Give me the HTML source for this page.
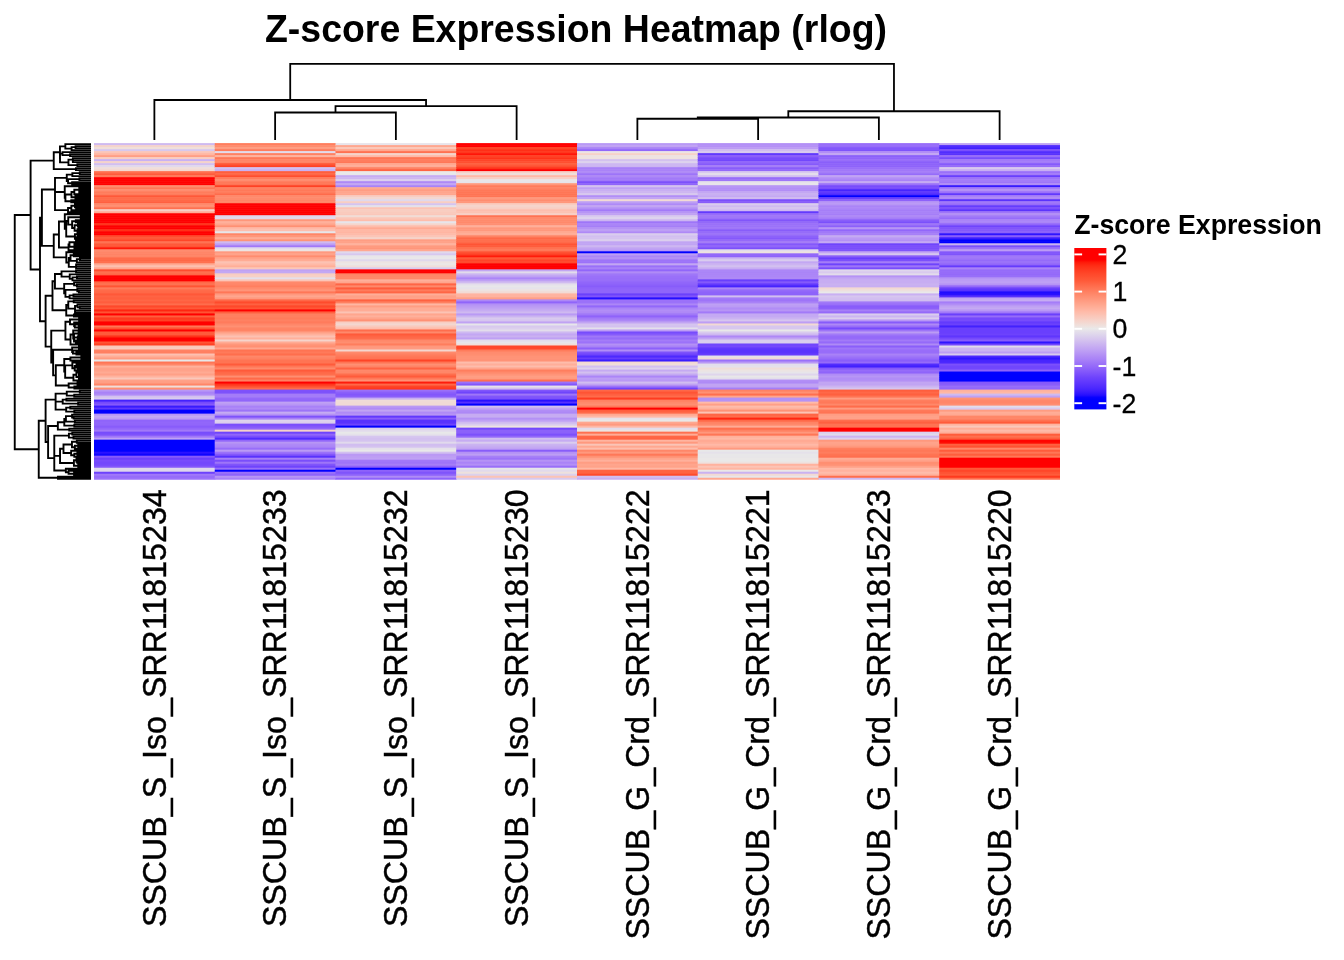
<!DOCTYPE html>
<html><head><meta charset="utf-8"><title>Z-score Expression Heatmap (rlog)</title>
<style>
html,body{margin:0;padding:0;background:#fff;}
svg{display:block;will-change:transform;}
</style></head>
<body>
<svg width="1344" height="960" viewBox="0 0 1344 960">
<rect width="1344" height="960" fill="#fff"/>
<text transform="translate(265.0,42) scale(1,1.02)" font-family="Liberation Sans, Arial, sans-serif" font-weight="bold" font-size="37.45">Z-score Expression Heatmap (rlog)</text>
<path d="M275.12 140.00V112.50H395.88V140.00M335.50 112.50V106.20H516.62V140.00M154.38 140.00V100.00H426.06V106.20M637.38 140.00V118.75H758.12V140.00M697.75 118.75V117.50H878.88V140.00M788.31 117.50V111.25H999.62V140.00M290.22 100.00V63.90H893.97V111.25" fill="none" stroke="#000" stroke-width="1.8"/>
<g shape-rendering="auto">
<rect x="94.00" y="143.10" width="121.35" height="2.60" fill="#cfbaf0"/>
<rect x="94.00" y="145.10" width="121.35" height="2.60" fill="#f5d4cb"/>
<rect x="94.00" y="147.11" width="121.35" height="2.60" fill="#efdfdb"/>
<rect x="94.00" y="149.11" width="121.35" height="2.60" fill="#d7c8ee"/>
<rect x="94.00" y="151.12" width="121.35" height="2.60" fill="#fbc5b7"/>
<rect x="94.00" y="153.12" width="121.35" height="2.60" fill="#ffb7a4"/>
<rect x="94.00" y="155.12" width="121.35" height="2.60" fill="#ff9e85"/>
<rect x="94.00" y="157.13" width="121.35" height="2.60" fill="#f8cec3"/>
<rect x="94.00" y="159.13" width="121.35" height="2.60" fill="#c9b0f2"/>
<rect x="94.00" y="161.13" width="121.35" height="2.60" fill="#f5d3ca"/>
<rect x="94.00" y="163.14" width="121.35" height="2.60" fill="#d2bef0"/>
<rect x="94.00" y="165.14" width="121.35" height="2.60" fill="#e1d9ec"/>
<rect x="94.00" y="167.15" width="121.35" height="2.60" fill="#f0deda"/>
<rect x="94.00" y="169.15" width="121.35" height="2.60" fill="#f3d8d1"/>
<rect x="94.00" y="171.15" width="121.35" height="2.60" fill="#ff6f4e"/>
<rect x="94.00" y="173.16" width="121.35" height="2.60" fill="#ff5b3b"/>
<rect x="94.00" y="175.16" width="121.35" height="2.60" fill="#ff7a5a"/>
<rect x="94.00" y="177.17" width="121.35" height="2.60" fill="#ff0000"/>
<rect x="94.00" y="179.17" width="121.35" height="2.60" fill="#ff0000"/>
<rect x="94.00" y="181.17" width="121.35" height="2.60" fill="#ff0000"/>
<rect x="94.00" y="183.18" width="121.35" height="2.60" fill="#ff0000"/>
<rect x="94.00" y="185.18" width="121.35" height="2.60" fill="#ff8b6d"/>
<rect x="94.00" y="187.19" width="121.35" height="2.60" fill="#ff7656"/>
<rect x="94.00" y="189.19" width="121.35" height="2.60" fill="#ff8d70"/>
<rect x="94.00" y="191.19" width="121.35" height="2.60" fill="#ff7c5c"/>
<rect x="94.00" y="193.20" width="121.35" height="2.60" fill="#ff7b5b"/>
<rect x="94.00" y="195.20" width="121.35" height="2.60" fill="#ff5838"/>
<rect x="94.00" y="197.20" width="121.35" height="2.60" fill="#ff6b4a"/>
<rect x="94.00" y="199.21" width="121.35" height="2.60" fill="#ff6847"/>
<rect x="94.00" y="201.21" width="121.35" height="2.60" fill="#ff6040"/>
<rect x="94.00" y="203.22" width="121.35" height="2.60" fill="#ff896b"/>
<rect x="94.00" y="205.22" width="121.35" height="2.60" fill="#ff8d6f"/>
<rect x="94.00" y="207.22" width="121.35" height="2.60" fill="#ff7050"/>
<rect x="94.00" y="209.23" width="121.35" height="2.60" fill="#f6d1c8"/>
<rect x="94.00" y="211.23" width="121.35" height="2.60" fill="#ffac96"/>
<rect x="94.00" y="213.24" width="121.35" height="2.60" fill="#ff0000"/>
<rect x="94.00" y="215.24" width="121.35" height="2.60" fill="#ff0000"/>
<rect x="94.00" y="217.24" width="121.35" height="2.60" fill="#ff0000"/>
<rect x="94.00" y="219.25" width="121.35" height="2.60" fill="#ff0000"/>
<rect x="94.00" y="221.25" width="121.35" height="2.60" fill="#ff0000"/>
<rect x="94.00" y="223.25" width="121.35" height="2.60" fill="#ff361c"/>
<rect x="94.00" y="225.26" width="121.35" height="2.60" fill="#ff0000"/>
<rect x="94.00" y="227.26" width="121.35" height="2.60" fill="#ff0000"/>
<rect x="94.00" y="229.27" width="121.35" height="2.60" fill="#ff3118"/>
<rect x="94.00" y="231.27" width="121.35" height="2.60" fill="#ff0201"/>
<rect x="94.00" y="233.27" width="121.35" height="2.60" fill="#ff0000"/>
<rect x="94.00" y="235.28" width="121.35" height="2.60" fill="#ff4c2d"/>
<rect x="94.00" y="237.28" width="121.35" height="2.60" fill="#ff5838"/>
<rect x="94.00" y="239.29" width="121.35" height="2.60" fill="#ff4628"/>
<rect x="94.00" y="241.29" width="121.35" height="2.60" fill="#ff7353"/>
<rect x="94.00" y="243.29" width="121.35" height="2.60" fill="#ff5939"/>
<rect x="94.00" y="245.30" width="121.35" height="2.60" fill="#ff5434"/>
<rect x="94.00" y="247.30" width="121.35" height="2.60" fill="#ff1808"/>
<rect x="94.00" y="249.31" width="121.35" height="2.60" fill="#ff8c6f"/>
<rect x="94.00" y="251.31" width="121.35" height="2.60" fill="#ff8668"/>
<rect x="94.00" y="253.31" width="121.35" height="2.60" fill="#ff8365"/>
<rect x="94.00" y="255.32" width="121.35" height="2.60" fill="#ff8566"/>
<rect x="94.00" y="257.32" width="121.35" height="2.60" fill="#ff6a49"/>
<rect x="94.00" y="259.32" width="121.35" height="2.60" fill="#ff6746"/>
<rect x="94.00" y="261.33" width="121.35" height="2.60" fill="#ff704f"/>
<rect x="94.00" y="263.33" width="121.35" height="2.60" fill="#ffa992"/>
<rect x="94.00" y="265.34" width="121.35" height="2.60" fill="#fdbfaf"/>
<rect x="94.00" y="267.34" width="121.35" height="2.60" fill="#ffa58d"/>
<rect x="94.00" y="269.34" width="121.35" height="2.60" fill="#ff4c2e"/>
<rect x="94.00" y="271.35" width="121.35" height="2.60" fill="#ff704f"/>
<rect x="94.00" y="273.35" width="121.35" height="2.60" fill="#ff6747"/>
<rect x="94.00" y="275.36" width="121.35" height="2.60" fill="#ff0000"/>
<rect x="94.00" y="277.36" width="121.35" height="2.60" fill="#ff0000"/>
<rect x="94.00" y="279.36" width="121.35" height="2.60" fill="#ff0000"/>
<rect x="94.00" y="281.37" width="121.35" height="2.60" fill="#ff6948"/>
<rect x="94.00" y="283.37" width="121.35" height="2.60" fill="#ff7251"/>
<rect x="94.00" y="285.37" width="121.35" height="2.60" fill="#ff5434"/>
<rect x="94.00" y="287.38" width="121.35" height="2.60" fill="#ff7c5c"/>
<rect x="94.00" y="289.38" width="121.35" height="2.60" fill="#ff6b4a"/>
<rect x="94.00" y="291.39" width="121.35" height="2.60" fill="#ff6847"/>
<rect x="94.00" y="293.39" width="121.35" height="2.60" fill="#ff5838"/>
<rect x="94.00" y="295.39" width="121.35" height="2.60" fill="#ff6343"/>
<rect x="94.00" y="297.40" width="121.35" height="2.60" fill="#ff5f3e"/>
<rect x="94.00" y="299.40" width="121.35" height="2.60" fill="#ff6645"/>
<rect x="94.00" y="301.41" width="121.35" height="2.60" fill="#ff5d3d"/>
<rect x="94.00" y="303.41" width="121.35" height="2.60" fill="#ff6d4c"/>
<rect x="94.00" y="305.41" width="121.35" height="2.60" fill="#ff482a"/>
<rect x="94.00" y="307.42" width="121.35" height="2.60" fill="#ff5838"/>
<rect x="94.00" y="309.42" width="121.35" height="2.60" fill="#ff2611"/>
<rect x="94.00" y="311.42" width="121.35" height="2.60" fill="#ff5434"/>
<rect x="94.00" y="313.43" width="121.35" height="2.60" fill="#ff0000"/>
<rect x="94.00" y="315.43" width="121.35" height="2.60" fill="#ff5f3e"/>
<rect x="94.00" y="317.44" width="121.35" height="2.60" fill="#ff3a1f"/>
<rect x="94.00" y="319.44" width="121.35" height="2.60" fill="#ff4225"/>
<rect x="94.00" y="321.44" width="121.35" height="2.60" fill="#ff0000"/>
<rect x="94.00" y="323.45" width="121.35" height="2.60" fill="#ff0000"/>
<rect x="94.00" y="325.45" width="121.35" height="2.60" fill="#ff7656"/>
<rect x="94.00" y="327.46" width="121.35" height="2.60" fill="#ff5131"/>
<rect x="94.00" y="329.46" width="121.35" height="2.60" fill="#ff0000"/>
<rect x="94.00" y="331.46" width="121.35" height="2.60" fill="#ff5c3c"/>
<rect x="94.00" y="333.47" width="121.35" height="2.60" fill="#ff5b3b"/>
<rect x="94.00" y="335.47" width="121.35" height="2.60" fill="#ff3219"/>
<rect x="94.00" y="337.48" width="121.35" height="2.60" fill="#ff0000"/>
<rect x="94.00" y="339.48" width="121.35" height="2.60" fill="#ff0000"/>
<rect x="94.00" y="341.48" width="121.35" height="2.60" fill="#ff5435"/>
<rect x="94.00" y="343.49" width="121.35" height="2.60" fill="#ff4124"/>
<rect x="94.00" y="345.49" width="121.35" height="2.60" fill="#fac8ba"/>
<rect x="94.00" y="347.49" width="121.35" height="2.60" fill="#f9ccc0"/>
<rect x="94.00" y="349.50" width="121.35" height="2.60" fill="#ff8264"/>
<rect x="94.00" y="351.50" width="121.35" height="2.60" fill="#ff7f60"/>
<rect x="94.00" y="353.51" width="121.35" height="2.60" fill="#fdc0b1"/>
<rect x="94.00" y="355.51" width="121.35" height="2.60" fill="#ffae98"/>
<rect x="94.00" y="357.51" width="121.35" height="2.60" fill="#ff9c82"/>
<rect x="94.00" y="359.52" width="121.35" height="2.60" fill="#e8e8e9"/>
<rect x="94.00" y="361.52" width="121.35" height="2.60" fill="#ff7656"/>
<rect x="94.00" y="363.53" width="121.35" height="2.60" fill="#ff886a"/>
<rect x="94.00" y="365.53" width="121.35" height="2.60" fill="#ffb19c"/>
<rect x="94.00" y="367.53" width="121.35" height="2.60" fill="#ffa38b"/>
<rect x="94.00" y="369.54" width="121.35" height="2.60" fill="#ffa28a"/>
<rect x="94.00" y="371.54" width="121.35" height="2.60" fill="#ffaa93"/>
<rect x="94.00" y="373.54" width="121.35" height="2.60" fill="#ffa087"/>
<rect x="94.00" y="375.55" width="121.35" height="2.60" fill="#ffb39f"/>
<rect x="94.00" y="377.55" width="121.35" height="2.60" fill="#fac8bb"/>
<rect x="94.00" y="379.56" width="121.35" height="2.60" fill="#ffa188"/>
<rect x="94.00" y="381.56" width="121.35" height="2.60" fill="#ff9e84"/>
<rect x="94.00" y="383.56" width="121.35" height="2.60" fill="#ff8668"/>
<rect x="94.00" y="385.57" width="121.35" height="2.60" fill="#f0deda"/>
<rect x="94.00" y="387.57" width="121.35" height="2.60" fill="#ff8e71"/>
<rect x="94.00" y="389.58" width="121.35" height="2.60" fill="#b897f5"/>
<rect x="94.00" y="391.58" width="121.35" height="2.60" fill="#a982f7"/>
<rect x="94.00" y="393.58" width="121.35" height="2.60" fill="#b08cf6"/>
<rect x="94.00" y="395.59" width="121.35" height="2.60" fill="#d2bff0"/>
<rect x="94.00" y="397.59" width="121.35" height="2.60" fill="#d9ccee"/>
<rect x="94.00" y="399.60" width="121.35" height="2.60" fill="#4322fe"/>
<rect x="94.00" y="401.60" width="121.35" height="2.60" fill="#754afc"/>
<rect x="94.00" y="403.60" width="121.35" height="2.60" fill="#8559fb"/>
<rect x="94.00" y="405.61" width="121.35" height="2.60" fill="#391bfe"/>
<rect x="94.00" y="407.61" width="121.35" height="2.60" fill="#6038fd"/>
<rect x="94.00" y="409.61" width="121.35" height="2.60" fill="#0000ff"/>
<rect x="94.00" y="411.62" width="121.35" height="2.60" fill="#0000ff"/>
<rect x="94.00" y="413.62" width="121.35" height="2.60" fill="#b896f5"/>
<rect x="94.00" y="415.63" width="121.35" height="2.60" fill="#c4a9f3"/>
<rect x="94.00" y="417.63" width="121.35" height="2.60" fill="#bd9df4"/>
<rect x="94.00" y="419.63" width="121.35" height="2.60" fill="#8f64fa"/>
<rect x="94.00" y="421.64" width="121.35" height="2.60" fill="#9267fa"/>
<rect x="94.00" y="423.64" width="121.35" height="2.60" fill="#9166fa"/>
<rect x="94.00" y="425.65" width="121.35" height="2.60" fill="#885cfa"/>
<rect x="94.00" y="427.65" width="121.35" height="2.60" fill="#9267fa"/>
<rect x="94.00" y="429.65" width="121.35" height="2.60" fill="#a279f8"/>
<rect x="94.00" y="431.66" width="121.35" height="2.60" fill="#774cfc"/>
<rect x="94.00" y="433.66" width="121.35" height="2.60" fill="#7e52fb"/>
<rect x="94.00" y="435.66" width="121.35" height="2.60" fill="#9f76f8"/>
<rect x="94.00" y="437.67" width="121.35" height="2.60" fill="#bfa1f4"/>
<rect x="94.00" y="439.67" width="121.35" height="2.60" fill="#0000ff"/>
<rect x="94.00" y="441.68" width="121.35" height="2.60" fill="#0000ff"/>
<rect x="94.00" y="443.68" width="121.35" height="2.60" fill="#0000ff"/>
<rect x="94.00" y="445.68" width="121.35" height="2.60" fill="#0000ff"/>
<rect x="94.00" y="447.69" width="121.35" height="2.60" fill="#0000ff"/>
<rect x="94.00" y="449.69" width="121.35" height="2.60" fill="#0000ff"/>
<rect x="94.00" y="451.70" width="121.35" height="2.60" fill="#2911ff"/>
<rect x="94.00" y="453.70" width="121.35" height="2.60" fill="#0e04ff"/>
<rect x="94.00" y="455.70" width="121.35" height="2.60" fill="#865afb"/>
<rect x="94.00" y="457.71" width="121.35" height="2.60" fill="#6b40fc"/>
<rect x="94.00" y="459.71" width="121.35" height="2.60" fill="#784cfc"/>
<rect x="94.00" y="461.72" width="121.35" height="2.60" fill="#7348fc"/>
<rect x="94.00" y="463.72" width="121.35" height="2.60" fill="#754afc"/>
<rect x="94.00" y="465.72" width="121.35" height="2.60" fill="#8357fb"/>
<rect x="94.00" y="467.73" width="121.35" height="2.60" fill="#dfd7ec"/>
<rect x="94.00" y="469.73" width="121.35" height="2.60" fill="#ded5ec"/>
<rect x="94.00" y="471.73" width="121.35" height="2.60" fill="#6d42fc"/>
<rect x="94.00" y="473.74" width="121.35" height="2.60" fill="#a178f8"/>
<rect x="94.00" y="475.74" width="121.35" height="2.60" fill="#966cf9"/>
<rect x="94.00" y="477.75" width="121.35" height="2.00" fill="#9c72f9"/>
<rect x="214.75" y="143.10" width="121.35" height="2.60" fill="#ff7e5e"/>
<rect x="214.75" y="145.10" width="121.35" height="2.60" fill="#ff8c6e"/>
<rect x="214.75" y="147.11" width="121.35" height="2.60" fill="#ff9c81"/>
<rect x="214.75" y="149.11" width="121.35" height="2.60" fill="#ff7c5d"/>
<rect x="214.75" y="151.12" width="121.35" height="2.60" fill="#e2dbeb"/>
<rect x="214.75" y="153.12" width="121.35" height="2.60" fill="#ff8162"/>
<rect x="214.75" y="155.12" width="121.35" height="2.60" fill="#ffb29d"/>
<rect x="214.75" y="157.13" width="121.35" height="2.60" fill="#ff7858"/>
<rect x="214.75" y="159.13" width="121.35" height="2.60" fill="#ff8567"/>
<rect x="214.75" y="161.13" width="121.35" height="2.60" fill="#ff8465"/>
<rect x="214.75" y="163.14" width="121.35" height="2.60" fill="#ff5636"/>
<rect x="214.75" y="165.14" width="121.35" height="2.60" fill="#ff4225"/>
<rect x="214.75" y="167.15" width="121.35" height="2.60" fill="#d2c0f0"/>
<rect x="214.75" y="169.15" width="121.35" height="2.60" fill="#c9b0f2"/>
<rect x="214.75" y="171.15" width="121.35" height="2.60" fill="#ff5e3d"/>
<rect x="214.75" y="173.16" width="121.35" height="2.60" fill="#ff6746"/>
<rect x="214.75" y="175.16" width="121.35" height="2.60" fill="#ff4e2f"/>
<rect x="214.75" y="177.17" width="121.35" height="2.60" fill="#ff7e5e"/>
<rect x="214.75" y="179.17" width="121.35" height="2.60" fill="#ff8d70"/>
<rect x="214.75" y="181.17" width="121.35" height="2.60" fill="#ff7959"/>
<rect x="214.75" y="183.18" width="121.35" height="2.60" fill="#ff7454"/>
<rect x="214.75" y="185.18" width="121.35" height="2.60" fill="#ff4124"/>
<rect x="214.75" y="187.19" width="121.35" height="2.60" fill="#ff8162"/>
<rect x="214.75" y="189.19" width="121.35" height="2.60" fill="#ff7959"/>
<rect x="214.75" y="191.19" width="121.35" height="2.60" fill="#ff7c5c"/>
<rect x="214.75" y="193.20" width="121.35" height="2.60" fill="#ff6b4b"/>
<rect x="214.75" y="195.20" width="121.35" height="2.60" fill="#ff896b"/>
<rect x="214.75" y="197.20" width="121.35" height="2.60" fill="#ff8a6c"/>
<rect x="214.75" y="199.21" width="121.35" height="2.60" fill="#ff8566"/>
<rect x="214.75" y="201.21" width="121.35" height="2.60" fill="#ff8667"/>
<rect x="214.75" y="203.22" width="121.35" height="2.60" fill="#ff0000"/>
<rect x="214.75" y="205.22" width="121.35" height="2.60" fill="#ff0000"/>
<rect x="214.75" y="207.22" width="121.35" height="2.60" fill="#ff0000"/>
<rect x="214.75" y="209.23" width="121.35" height="2.60" fill="#ff0000"/>
<rect x="214.75" y="211.23" width="121.35" height="2.60" fill="#ff0000"/>
<rect x="214.75" y="213.24" width="121.35" height="2.60" fill="#ff0000"/>
<rect x="214.75" y="215.24" width="121.35" height="2.60" fill="#dfd7ec"/>
<rect x="214.75" y="217.24" width="121.35" height="2.60" fill="#e1d9ec"/>
<rect x="214.75" y="219.25" width="121.35" height="2.60" fill="#ff967a"/>
<rect x="214.75" y="221.25" width="121.35" height="2.60" fill="#ffb09b"/>
<rect x="214.75" y="223.25" width="121.35" height="2.60" fill="#ffa58c"/>
<rect x="214.75" y="225.26" width="121.35" height="2.60" fill="#ff9073"/>
<rect x="214.75" y="227.26" width="121.35" height="2.60" fill="#ffb9a7"/>
<rect x="214.75" y="229.27" width="121.35" height="2.60" fill="#fdbfaf"/>
<rect x="214.75" y="231.27" width="121.35" height="2.60" fill="#e7e6ea"/>
<rect x="214.75" y="233.27" width="121.35" height="2.60" fill="#ff8667"/>
<rect x="214.75" y="235.28" width="121.35" height="2.60" fill="#ff977b"/>
<rect x="214.75" y="237.28" width="121.35" height="2.60" fill="#ffac96"/>
<rect x="214.75" y="239.29" width="121.35" height="2.60" fill="#ff9275"/>
<rect x="214.75" y="241.29" width="121.35" height="2.60" fill="#cfb9f0"/>
<rect x="214.75" y="243.29" width="121.35" height="2.60" fill="#bd9ef4"/>
<rect x="214.75" y="245.30" width="121.35" height="2.60" fill="#a178f8"/>
<rect x="214.75" y="247.30" width="121.35" height="2.60" fill="#e1daeb"/>
<rect x="214.75" y="249.31" width="121.35" height="2.60" fill="#ece4e2"/>
<rect x="214.75" y="251.31" width="121.35" height="2.60" fill="#ff997f"/>
<rect x="214.75" y="253.31" width="121.35" height="2.60" fill="#ffa38a"/>
<rect x="214.75" y="255.32" width="121.35" height="2.60" fill="#ff8c6f"/>
<rect x="214.75" y="257.32" width="121.35" height="2.60" fill="#ffa289"/>
<rect x="214.75" y="259.32" width="121.35" height="2.60" fill="#ffab94"/>
<rect x="214.75" y="261.33" width="121.35" height="2.60" fill="#fcc2b3"/>
<rect x="214.75" y="263.33" width="121.35" height="2.60" fill="#ffb9a6"/>
<rect x="214.75" y="265.34" width="121.35" height="2.60" fill="#ffae98"/>
<rect x="214.75" y="267.34" width="121.35" height="2.60" fill="#fbc7b9"/>
<rect x="214.75" y="269.34" width="121.35" height="2.60" fill="#c0a2f3"/>
<rect x="214.75" y="271.35" width="121.35" height="2.60" fill="#c3a8f3"/>
<rect x="214.75" y="273.35" width="121.35" height="2.60" fill="#f8cdc2"/>
<rect x="214.75" y="275.36" width="121.35" height="2.60" fill="#f7d0c6"/>
<rect x="214.75" y="277.36" width="121.35" height="2.60" fill="#e4dfeb"/>
<rect x="214.75" y="279.36" width="121.35" height="2.60" fill="#fbc5b7"/>
<rect x="214.75" y="281.37" width="121.35" height="2.60" fill="#ff896b"/>
<rect x="214.75" y="283.37" width="121.35" height="2.60" fill="#ff8668"/>
<rect x="214.75" y="285.37" width="121.35" height="2.60" fill="#ff7f5f"/>
<rect x="214.75" y="287.38" width="121.35" height="2.60" fill="#ff8c6e"/>
<rect x="214.75" y="289.38" width="121.35" height="2.60" fill="#ff9579"/>
<rect x="214.75" y="291.39" width="121.35" height="2.60" fill="#ff7757"/>
<rect x="214.75" y="293.39" width="121.35" height="2.60" fill="#ff997e"/>
<rect x="214.75" y="295.39" width="121.35" height="2.60" fill="#ffa68e"/>
<rect x="214.75" y="297.40" width="121.35" height="2.60" fill="#ff997e"/>
<rect x="214.75" y="299.40" width="121.35" height="2.60" fill="#ff6747"/>
<rect x="214.75" y="301.41" width="121.35" height="2.60" fill="#ff4b2c"/>
<rect x="214.75" y="303.41" width="121.35" height="2.60" fill="#ff6140"/>
<rect x="214.75" y="305.41" width="121.35" height="2.60" fill="#ff482a"/>
<rect x="214.75" y="307.42" width="121.35" height="2.60" fill="#ff5636"/>
<rect x="214.75" y="309.42" width="121.35" height="2.60" fill="#ff0000"/>
<rect x="214.75" y="311.42" width="121.35" height="2.60" fill="#ff6040"/>
<rect x="214.75" y="313.43" width="121.35" height="2.60" fill="#ff7f5f"/>
<rect x="214.75" y="315.43" width="121.35" height="2.60" fill="#ff7f60"/>
<rect x="214.75" y="317.44" width="121.35" height="2.60" fill="#ff7b5b"/>
<rect x="214.75" y="319.44" width="121.35" height="2.60" fill="#ff8162"/>
<rect x="214.75" y="321.44" width="121.35" height="2.60" fill="#ff7b5c"/>
<rect x="214.75" y="323.45" width="121.35" height="2.60" fill="#ff8769"/>
<rect x="214.75" y="325.45" width="121.35" height="2.60" fill="#ff9073"/>
<rect x="214.75" y="327.46" width="121.35" height="2.60" fill="#ff8465"/>
<rect x="214.75" y="329.46" width="121.35" height="2.60" fill="#ff8465"/>
<rect x="214.75" y="331.46" width="121.35" height="2.60" fill="#ffa086"/>
<rect x="214.75" y="333.47" width="121.35" height="2.60" fill="#ffb19c"/>
<rect x="214.75" y="335.47" width="121.35" height="2.60" fill="#fcc1b2"/>
<rect x="214.75" y="337.48" width="121.35" height="2.60" fill="#ffb09b"/>
<rect x="214.75" y="339.48" width="121.35" height="2.60" fill="#f5d4cc"/>
<rect x="214.75" y="341.48" width="121.35" height="2.60" fill="#ffab94"/>
<rect x="214.75" y="343.49" width="121.35" height="2.60" fill="#ff977b"/>
<rect x="214.75" y="345.49" width="121.35" height="2.60" fill="#ff8f72"/>
<rect x="214.75" y="347.49" width="121.35" height="2.60" fill="#ffa68f"/>
<rect x="214.75" y="349.50" width="121.35" height="2.60" fill="#ff7352"/>
<rect x="214.75" y="351.50" width="121.35" height="2.60" fill="#ff7a5a"/>
<rect x="214.75" y="353.51" width="121.35" height="2.60" fill="#ff6e4d"/>
<rect x="214.75" y="355.51" width="121.35" height="2.60" fill="#ff8769"/>
<rect x="214.75" y="357.51" width="121.35" height="2.60" fill="#ff8162"/>
<rect x="214.75" y="359.52" width="121.35" height="2.60" fill="#ff7454"/>
<rect x="214.75" y="361.52" width="121.35" height="2.60" fill="#ff7454"/>
<rect x="214.75" y="363.53" width="121.35" height="2.60" fill="#ff5b3b"/>
<rect x="214.75" y="365.53" width="121.35" height="2.60" fill="#ff7757"/>
<rect x="214.75" y="367.53" width="121.35" height="2.60" fill="#ff8a6c"/>
<rect x="214.75" y="369.54" width="121.35" height="2.60" fill="#ff5a3a"/>
<rect x="214.75" y="371.54" width="121.35" height="2.60" fill="#ff6848"/>
<rect x="214.75" y="373.54" width="121.35" height="2.60" fill="#ff6e4d"/>
<rect x="214.75" y="375.55" width="121.35" height="2.60" fill="#ff8e71"/>
<rect x="214.75" y="377.55" width="121.35" height="2.60" fill="#ff6a49"/>
<rect x="214.75" y="379.56" width="121.35" height="2.60" fill="#ff8263"/>
<rect x="214.75" y="381.56" width="121.35" height="2.60" fill="#ff0000"/>
<rect x="214.75" y="383.56" width="121.35" height="2.60" fill="#ff371d"/>
<rect x="214.75" y="385.57" width="121.35" height="2.60" fill="#ff5031"/>
<rect x="214.75" y="387.57" width="121.35" height="2.60" fill="#ff6c4b"/>
<rect x="214.75" y="389.58" width="121.35" height="2.60" fill="#7e52fb"/>
<rect x="214.75" y="391.58" width="121.35" height="2.60" fill="#7d52fb"/>
<rect x="214.75" y="393.58" width="121.35" height="2.60" fill="#a47cf8"/>
<rect x="214.75" y="395.59" width="121.35" height="2.60" fill="#a47cf8"/>
<rect x="214.75" y="397.59" width="121.35" height="2.60" fill="#9469f9"/>
<rect x="214.75" y="399.60" width="121.35" height="2.60" fill="#9065fa"/>
<rect x="214.75" y="401.60" width="121.35" height="2.60" fill="#bfa1f4"/>
<rect x="214.75" y="403.60" width="121.35" height="2.60" fill="#b897f5"/>
<rect x="214.75" y="405.61" width="121.35" height="2.60" fill="#a881f7"/>
<rect x="214.75" y="407.61" width="121.35" height="2.60" fill="#af8af6"/>
<rect x="214.75" y="409.61" width="121.35" height="2.60" fill="#9c73f8"/>
<rect x="214.75" y="411.62" width="121.35" height="2.60" fill="#c5abf2"/>
<rect x="214.75" y="413.62" width="121.35" height="2.60" fill="#b593f5"/>
<rect x="214.75" y="415.63" width="121.35" height="2.60" fill="#7e52fb"/>
<rect x="214.75" y="417.63" width="121.35" height="2.60" fill="#a780f7"/>
<rect x="214.75" y="419.63" width="121.35" height="2.60" fill="#ded4ec"/>
<rect x="214.75" y="421.64" width="121.35" height="2.60" fill="#dbceed"/>
<rect x="214.75" y="423.64" width="121.35" height="2.60" fill="#7b4ffb"/>
<rect x="214.75" y="425.65" width="121.35" height="2.60" fill="#8357fb"/>
<rect x="214.75" y="427.65" width="121.35" height="2.60" fill="#9166fa"/>
<rect x="214.75" y="429.65" width="121.35" height="2.60" fill="#f6d2c8"/>
<rect x="214.75" y="431.66" width="121.35" height="2.60" fill="#6f44fc"/>
<rect x="214.75" y="433.66" width="121.35" height="2.60" fill="#9166fa"/>
<rect x="214.75" y="435.66" width="121.35" height="2.60" fill="#7a4efc"/>
<rect x="214.75" y="437.67" width="121.35" height="2.60" fill="#512cfe"/>
<rect x="214.75" y="439.67" width="121.35" height="2.60" fill="#9267fa"/>
<rect x="214.75" y="441.68" width="121.35" height="2.60" fill="#b796f5"/>
<rect x="214.75" y="443.68" width="121.35" height="2.60" fill="#af8af6"/>
<rect x="214.75" y="445.68" width="121.35" height="2.60" fill="#ab85f7"/>
<rect x="214.75" y="447.69" width="121.35" height="2.60" fill="#986ef9"/>
<rect x="214.75" y="449.69" width="121.35" height="2.60" fill="#bb9bf4"/>
<rect x="214.75" y="451.70" width="121.35" height="2.60" fill="#9c72f9"/>
<rect x="214.75" y="453.70" width="121.35" height="2.60" fill="#8458fb"/>
<rect x="214.75" y="455.70" width="121.35" height="2.60" fill="#5932fd"/>
<rect x="214.75" y="457.71" width="121.35" height="2.60" fill="#a780f7"/>
<rect x="214.75" y="459.71" width="121.35" height="2.60" fill="#7a4efb"/>
<rect x="214.75" y="461.72" width="121.35" height="2.60" fill="#9e75f8"/>
<rect x="214.75" y="463.72" width="121.35" height="2.60" fill="#8155fb"/>
<rect x="214.75" y="465.72" width="121.35" height="2.60" fill="#6f44fc"/>
<rect x="214.75" y="467.73" width="121.35" height="2.60" fill="#996ff9"/>
<rect x="214.75" y="469.73" width="121.35" height="2.60" fill="#0000ff"/>
<rect x="214.75" y="471.73" width="121.35" height="2.60" fill="#9a71f9"/>
<rect x="214.75" y="473.74" width="121.35" height="2.60" fill="#8e63fa"/>
<rect x="214.75" y="475.74" width="121.35" height="2.60" fill="#b795f5"/>
<rect x="214.75" y="477.75" width="121.35" height="2.00" fill="#a983f7"/>
<rect x="335.50" y="143.10" width="121.35" height="2.60" fill="#e7e4ea"/>
<rect x="335.50" y="145.10" width="121.35" height="2.60" fill="#ffa68e"/>
<rect x="335.50" y="147.11" width="121.35" height="2.60" fill="#fbc7b9"/>
<rect x="335.50" y="149.11" width="121.35" height="2.60" fill="#ffa78f"/>
<rect x="335.50" y="151.12" width="121.35" height="2.60" fill="#ff7151"/>
<rect x="335.50" y="153.12" width="121.35" height="2.60" fill="#f5d4cb"/>
<rect x="335.50" y="155.12" width="121.35" height="2.60" fill="#ffb9a7"/>
<rect x="335.50" y="157.13" width="121.35" height="2.60" fill="#ff7554"/>
<rect x="335.50" y="159.13" width="121.35" height="2.60" fill="#ff7d5e"/>
<rect x="335.50" y="161.13" width="121.35" height="2.60" fill="#ff7757"/>
<rect x="335.50" y="163.14" width="121.35" height="2.60" fill="#ffa890"/>
<rect x="335.50" y="165.14" width="121.35" height="2.60" fill="#ffad97"/>
<rect x="335.50" y="167.15" width="121.35" height="2.60" fill="#ff8263"/>
<rect x="335.50" y="169.15" width="121.35" height="2.60" fill="#ff6342"/>
<rect x="335.50" y="171.15" width="121.35" height="2.60" fill="#e9e9e8"/>
<rect x="335.50" y="173.16" width="121.35" height="2.60" fill="#e8e7e9"/>
<rect x="335.50" y="175.16" width="121.35" height="2.60" fill="#c6acf2"/>
<rect x="335.50" y="177.17" width="121.35" height="2.60" fill="#cdb7f1"/>
<rect x="335.50" y="179.17" width="121.35" height="2.60" fill="#dbcfed"/>
<rect x="335.50" y="181.17" width="121.35" height="2.60" fill="#ae89f6"/>
<rect x="335.50" y="183.18" width="121.35" height="2.60" fill="#c2a6f3"/>
<rect x="335.50" y="185.18" width="121.35" height="2.60" fill="#a982f7"/>
<rect x="335.50" y="187.19" width="121.35" height="2.60" fill="#ffa991"/>
<rect x="335.50" y="189.19" width="121.35" height="2.60" fill="#ff9c82"/>
<rect x="335.50" y="191.19" width="121.35" height="2.60" fill="#ffa58d"/>
<rect x="335.50" y="193.20" width="121.35" height="2.60" fill="#ffa68e"/>
<rect x="335.50" y="195.20" width="121.35" height="2.60" fill="#f8cdc2"/>
<rect x="335.50" y="197.20" width="121.35" height="2.60" fill="#f3d8d2"/>
<rect x="335.50" y="199.21" width="121.35" height="2.60" fill="#e0d8ec"/>
<rect x="335.50" y="201.21" width="121.35" height="2.60" fill="#f8cec3"/>
<rect x="335.50" y="203.22" width="121.35" height="2.60" fill="#d5c4ef"/>
<rect x="335.50" y="205.22" width="121.35" height="2.60" fill="#e5e2ea"/>
<rect x="335.50" y="207.22" width="121.35" height="2.60" fill="#fcc3b4"/>
<rect x="335.50" y="209.23" width="121.35" height="2.60" fill="#f8cdc1"/>
<rect x="335.50" y="211.23" width="121.35" height="2.60" fill="#f9cabd"/>
<rect x="335.50" y="213.24" width="121.35" height="2.60" fill="#fac7ba"/>
<rect x="335.50" y="215.24" width="121.35" height="2.60" fill="#f1dcd6"/>
<rect x="335.50" y="217.24" width="121.35" height="2.60" fill="#fbc6b8"/>
<rect x="335.50" y="219.25" width="121.35" height="2.60" fill="#febdac"/>
<rect x="335.50" y="221.25" width="121.35" height="2.60" fill="#e7e5ea"/>
<rect x="335.50" y="223.25" width="121.35" height="2.60" fill="#f5d5cc"/>
<rect x="335.50" y="225.26" width="121.35" height="2.60" fill="#febcaa"/>
<rect x="335.50" y="227.26" width="121.35" height="2.60" fill="#ffa992"/>
<rect x="335.50" y="229.27" width="121.35" height="2.60" fill="#ffb8a5"/>
<rect x="335.50" y="231.27" width="121.35" height="2.60" fill="#ffb5a2"/>
<rect x="335.50" y="233.27" width="121.35" height="2.60" fill="#febbaa"/>
<rect x="335.50" y="235.28" width="121.35" height="2.60" fill="#fbc5b7"/>
<rect x="335.50" y="237.28" width="121.35" height="2.60" fill="#f5d3ca"/>
<rect x="335.50" y="239.29" width="121.35" height="2.60" fill="#ff9d83"/>
<rect x="335.50" y="241.29" width="121.35" height="2.60" fill="#ffa289"/>
<rect x="335.50" y="243.29" width="121.35" height="2.60" fill="#ffb29d"/>
<rect x="335.50" y="245.30" width="121.35" height="2.60" fill="#ff9a7f"/>
<rect x="335.50" y="247.30" width="121.35" height="2.60" fill="#ff967b"/>
<rect x="335.50" y="249.31" width="121.35" height="2.60" fill="#ffa891"/>
<rect x="335.50" y="251.31" width="121.35" height="2.60" fill="#e0d8ec"/>
<rect x="335.50" y="253.31" width="121.35" height="2.60" fill="#d7c8ee"/>
<rect x="335.50" y="255.32" width="121.35" height="2.60" fill="#e8e6e9"/>
<rect x="335.50" y="257.32" width="121.35" height="2.60" fill="#e9e8e9"/>
<rect x="335.50" y="259.32" width="121.35" height="2.60" fill="#dfd7ec"/>
<rect x="335.50" y="261.33" width="121.35" height="2.60" fill="#ede3e1"/>
<rect x="335.50" y="263.33" width="121.35" height="2.60" fill="#eae7e6"/>
<rect x="335.50" y="265.34" width="121.35" height="2.60" fill="#f0deda"/>
<rect x="335.50" y="267.34" width="121.35" height="2.60" fill="#d9cbee"/>
<rect x="335.50" y="269.34" width="121.35" height="2.60" fill="#ff0000"/>
<rect x="335.50" y="271.35" width="121.35" height="2.60" fill="#ff0000"/>
<rect x="335.50" y="273.35" width="121.35" height="2.60" fill="#ff8364"/>
<rect x="335.50" y="275.36" width="121.35" height="2.60" fill="#ff8667"/>
<rect x="335.50" y="277.36" width="121.35" height="2.60" fill="#ff8768"/>
<rect x="335.50" y="279.36" width="121.35" height="2.60" fill="#ffb09b"/>
<rect x="335.50" y="281.37" width="121.35" height="2.60" fill="#ffa58d"/>
<rect x="335.50" y="283.37" width="121.35" height="2.60" fill="#ff6545"/>
<rect x="335.50" y="285.37" width="121.35" height="2.60" fill="#ff896b"/>
<rect x="335.50" y="287.38" width="121.35" height="2.60" fill="#ff5a3a"/>
<rect x="335.50" y="289.38" width="121.35" height="2.60" fill="#ff7b5c"/>
<rect x="335.50" y="291.39" width="121.35" height="2.60" fill="#ff6646"/>
<rect x="335.50" y="293.39" width="121.35" height="2.60" fill="#ffad98"/>
<rect x="335.50" y="295.39" width="121.35" height="2.60" fill="#ffa087"/>
<rect x="335.50" y="297.40" width="121.35" height="2.60" fill="#ffa38b"/>
<rect x="335.50" y="299.40" width="121.35" height="2.60" fill="#ff6140"/>
<rect x="335.50" y="301.41" width="121.35" height="2.60" fill="#ff8060"/>
<rect x="335.50" y="303.41" width="121.35" height="2.60" fill="#ffb6a2"/>
<rect x="335.50" y="305.41" width="121.35" height="2.60" fill="#ff9d83"/>
<rect x="335.50" y="307.42" width="121.35" height="2.60" fill="#ffac95"/>
<rect x="335.50" y="309.42" width="121.35" height="2.60" fill="#ffac96"/>
<rect x="335.50" y="311.42" width="121.35" height="2.60" fill="#fcc3b4"/>
<rect x="335.50" y="313.43" width="121.35" height="2.60" fill="#ffa68e"/>
<rect x="335.50" y="315.43" width="121.35" height="2.60" fill="#ffb09b"/>
<rect x="335.50" y="317.44" width="121.35" height="2.60" fill="#ffa38a"/>
<rect x="335.50" y="319.44" width="121.35" height="2.60" fill="#ff9175"/>
<rect x="335.50" y="321.44" width="121.35" height="2.60" fill="#f8cdc2"/>
<rect x="335.50" y="323.45" width="121.35" height="2.60" fill="#f3d7d0"/>
<rect x="335.50" y="325.45" width="121.35" height="2.60" fill="#fac9bc"/>
<rect x="335.50" y="327.46" width="121.35" height="2.60" fill="#febcab"/>
<rect x="335.50" y="329.46" width="121.35" height="2.60" fill="#ff6d4d"/>
<rect x="335.50" y="331.46" width="121.35" height="2.60" fill="#ff896b"/>
<rect x="335.50" y="333.47" width="121.35" height="2.60" fill="#ff5a3a"/>
<rect x="335.50" y="335.47" width="121.35" height="2.60" fill="#ff6545"/>
<rect x="335.50" y="337.48" width="121.35" height="2.60" fill="#ff6c4b"/>
<rect x="335.50" y="339.48" width="121.35" height="2.60" fill="#ff886a"/>
<rect x="335.50" y="341.48" width="121.35" height="2.60" fill="#ff8e70"/>
<rect x="335.50" y="343.49" width="121.35" height="2.60" fill="#ff7d5d"/>
<rect x="335.50" y="345.49" width="121.35" height="2.60" fill="#ff987d"/>
<rect x="335.50" y="347.49" width="121.35" height="2.60" fill="#ff9b81"/>
<rect x="335.50" y="349.50" width="121.35" height="2.60" fill="#f4d7cf"/>
<rect x="335.50" y="351.50" width="121.35" height="2.60" fill="#ff8a6c"/>
<rect x="335.50" y="353.51" width="121.35" height="2.60" fill="#ff8061"/>
<rect x="335.50" y="355.51" width="121.35" height="2.60" fill="#ff7858"/>
<rect x="335.50" y="357.51" width="121.35" height="2.60" fill="#ff7353"/>
<rect x="335.50" y="359.52" width="121.35" height="2.60" fill="#ff4426"/>
<rect x="335.50" y="361.52" width="121.35" height="2.60" fill="#ff7555"/>
<rect x="335.50" y="363.53" width="121.35" height="2.60" fill="#ff9073"/>
<rect x="335.50" y="365.53" width="121.35" height="2.60" fill="#ff8466"/>
<rect x="335.50" y="367.53" width="121.35" height="2.60" fill="#ff6343"/>
<rect x="335.50" y="369.54" width="121.35" height="2.60" fill="#ff896b"/>
<rect x="335.50" y="371.54" width="121.35" height="2.60" fill="#ff8768"/>
<rect x="335.50" y="373.54" width="121.35" height="2.60" fill="#ff6e4d"/>
<rect x="335.50" y="375.55" width="121.35" height="2.60" fill="#ff5b3b"/>
<rect x="335.50" y="377.55" width="121.35" height="2.60" fill="#ff7859"/>
<rect x="335.50" y="379.56" width="121.35" height="2.60" fill="#ff9276"/>
<rect x="335.50" y="381.56" width="121.35" height="2.60" fill="#ff1c0b"/>
<rect x="335.50" y="383.56" width="121.35" height="2.60" fill="#ff6948"/>
<rect x="335.50" y="385.57" width="121.35" height="2.60" fill="#ff4427"/>
<rect x="335.50" y="387.57" width="121.35" height="2.60" fill="#ff391e"/>
<rect x="335.50" y="389.58" width="121.35" height="2.60" fill="#9a70f9"/>
<rect x="335.50" y="391.58" width="121.35" height="2.60" fill="#8b60fa"/>
<rect x="335.50" y="393.58" width="121.35" height="2.60" fill="#8357fb"/>
<rect x="335.50" y="395.59" width="121.35" height="2.60" fill="#8b5ffa"/>
<rect x="335.50" y="397.59" width="121.35" height="2.60" fill="#c8aef2"/>
<rect x="335.50" y="399.60" width="121.35" height="2.60" fill="#f0ddd8"/>
<rect x="335.50" y="401.60" width="121.35" height="2.60" fill="#f1dbd5"/>
<rect x="335.50" y="403.60" width="121.35" height="2.60" fill="#f1dbd5"/>
<rect x="335.50" y="405.61" width="121.35" height="2.60" fill="#ba99f4"/>
<rect x="335.50" y="407.61" width="121.35" height="2.60" fill="#b08cf6"/>
<rect x="335.50" y="409.61" width="121.35" height="2.60" fill="#c1a4f3"/>
<rect x="335.50" y="411.62" width="121.35" height="2.60" fill="#b08bf6"/>
<rect x="335.50" y="413.62" width="121.35" height="2.60" fill="#b694f5"/>
<rect x="335.50" y="415.63" width="121.35" height="2.60" fill="#6138fd"/>
<rect x="335.50" y="417.63" width="121.35" height="2.60" fill="#8a5ffa"/>
<rect x="335.50" y="419.63" width="121.35" height="2.60" fill="#5831fd"/>
<rect x="335.50" y="421.64" width="121.35" height="2.60" fill="#5932fd"/>
<rect x="335.50" y="423.64" width="121.35" height="2.60" fill="#6f44fc"/>
<rect x="335.50" y="425.65" width="121.35" height="2.60" fill="#0000ff"/>
<rect x="335.50" y="427.65" width="121.35" height="2.60" fill="#dcd0ed"/>
<rect x="335.50" y="429.65" width="121.35" height="2.60" fill="#e2dbeb"/>
<rect x="335.50" y="431.66" width="121.35" height="2.60" fill="#e8e8e9"/>
<rect x="335.50" y="433.66" width="121.35" height="2.60" fill="#e5e1ea"/>
<rect x="335.50" y="435.66" width="121.35" height="2.60" fill="#d6c6ef"/>
<rect x="335.50" y="437.67" width="121.35" height="2.60" fill="#d3c0ef"/>
<rect x="335.50" y="439.67" width="121.35" height="2.60" fill="#d4c3ef"/>
<rect x="335.50" y="441.68" width="121.35" height="2.60" fill="#e1d9ec"/>
<rect x="335.50" y="443.68" width="121.35" height="2.60" fill="#d1bdf0"/>
<rect x="335.50" y="445.68" width="121.35" height="2.60" fill="#d4c2ef"/>
<rect x="335.50" y="447.69" width="121.35" height="2.60" fill="#e5e0ea"/>
<rect x="335.50" y="449.69" width="121.35" height="2.60" fill="#e9e9e9"/>
<rect x="335.50" y="451.70" width="121.35" height="2.60" fill="#d2bff0"/>
<rect x="335.50" y="453.70" width="121.35" height="2.60" fill="#ba99f4"/>
<rect x="335.50" y="455.70" width="121.35" height="2.60" fill="#bd9df4"/>
<rect x="335.50" y="457.71" width="121.35" height="2.60" fill="#bfa1f4"/>
<rect x="335.50" y="459.71" width="121.35" height="2.60" fill="#a178f8"/>
<rect x="335.50" y="461.72" width="121.35" height="2.60" fill="#9d74f8"/>
<rect x="335.50" y="463.72" width="121.35" height="2.60" fill="#a57ef7"/>
<rect x="335.50" y="465.72" width="121.35" height="2.60" fill="#8d61fa"/>
<rect x="335.50" y="467.73" width="121.35" height="2.60" fill="#0000ff"/>
<rect x="335.50" y="469.73" width="121.35" height="2.60" fill="#8e63fa"/>
<rect x="335.50" y="471.73" width="121.35" height="2.60" fill="#8054fb"/>
<rect x="335.50" y="473.74" width="121.35" height="2.60" fill="#8e63fa"/>
<rect x="335.50" y="475.74" width="121.35" height="2.60" fill="#af8bf6"/>
<rect x="335.50" y="477.75" width="121.35" height="2.00" fill="#8e63fa"/>
<rect x="456.25" y="143.10" width="121.35" height="2.60" fill="#ff0000"/>
<rect x="456.25" y="145.10" width="121.35" height="2.60" fill="#ff0000"/>
<rect x="456.25" y="147.11" width="121.35" height="2.60" fill="#ff4426"/>
<rect x="456.25" y="149.11" width="121.35" height="2.60" fill="#ff2f17"/>
<rect x="456.25" y="151.12" width="121.35" height="2.60" fill="#ff371d"/>
<rect x="456.25" y="153.12" width="121.35" height="2.60" fill="#ff1507"/>
<rect x="456.25" y="155.12" width="121.35" height="2.60" fill="#ff4125"/>
<rect x="456.25" y="157.13" width="121.35" height="2.60" fill="#ff341a"/>
<rect x="456.25" y="159.13" width="121.35" height="2.60" fill="#ff4528"/>
<rect x="456.25" y="161.13" width="121.35" height="2.60" fill="#ff4f30"/>
<rect x="456.25" y="163.14" width="121.35" height="2.60" fill="#ff5f3e"/>
<rect x="456.25" y="165.14" width="121.35" height="2.60" fill="#ff4f30"/>
<rect x="456.25" y="167.15" width="121.35" height="2.60" fill="#ff341a"/>
<rect x="456.25" y="169.15" width="121.35" height="2.60" fill="#ff0000"/>
<rect x="456.25" y="171.15" width="121.35" height="2.60" fill="#f6d2c8"/>
<rect x="456.25" y="173.16" width="121.35" height="2.60" fill="#f0deda"/>
<rect x="456.25" y="175.16" width="121.35" height="2.60" fill="#ffb9a7"/>
<rect x="456.25" y="177.17" width="121.35" height="2.60" fill="#f7d1c7"/>
<rect x="456.25" y="179.17" width="121.35" height="2.60" fill="#e8e6e9"/>
<rect x="456.25" y="181.17" width="121.35" height="2.60" fill="#e6e4ea"/>
<rect x="456.25" y="183.18" width="121.35" height="2.60" fill="#ff987c"/>
<rect x="456.25" y="185.18" width="121.35" height="2.60" fill="#ff7b5b"/>
<rect x="456.25" y="187.19" width="121.35" height="2.60" fill="#ff8364"/>
<rect x="456.25" y="189.19" width="121.35" height="2.60" fill="#ff7858"/>
<rect x="456.25" y="191.19" width="121.35" height="2.60" fill="#ff7656"/>
<rect x="456.25" y="193.20" width="121.35" height="2.60" fill="#ff7454"/>
<rect x="456.25" y="195.20" width="121.35" height="2.60" fill="#ff7555"/>
<rect x="456.25" y="197.20" width="121.35" height="2.60" fill="#ff997e"/>
<rect x="456.25" y="199.21" width="121.35" height="2.60" fill="#ff8c6f"/>
<rect x="456.25" y="201.21" width="121.35" height="2.60" fill="#ff977b"/>
<rect x="456.25" y="203.22" width="121.35" height="2.60" fill="#f9ccc0"/>
<rect x="456.25" y="205.22" width="121.35" height="2.60" fill="#f5d4cb"/>
<rect x="456.25" y="207.22" width="121.35" height="2.60" fill="#f8cec3"/>
<rect x="456.25" y="209.23" width="121.35" height="2.60" fill="#fdbeae"/>
<rect x="456.25" y="211.23" width="121.35" height="2.60" fill="#fcc3b3"/>
<rect x="456.25" y="213.24" width="121.35" height="2.60" fill="#f7cfc5"/>
<rect x="456.25" y="215.24" width="121.35" height="2.60" fill="#ff7252"/>
<rect x="456.25" y="217.24" width="121.35" height="2.60" fill="#ff8a6c"/>
<rect x="456.25" y="219.25" width="121.35" height="2.60" fill="#ff8a6c"/>
<rect x="456.25" y="221.25" width="121.35" height="2.60" fill="#ff896b"/>
<rect x="456.25" y="223.25" width="121.35" height="2.60" fill="#ff8f73"/>
<rect x="456.25" y="225.26" width="121.35" height="2.60" fill="#ffaf9a"/>
<rect x="456.25" y="227.26" width="121.35" height="2.60" fill="#ff977c"/>
<rect x="456.25" y="229.27" width="121.35" height="2.60" fill="#ff987d"/>
<rect x="456.25" y="231.27" width="121.35" height="2.60" fill="#ffa991"/>
<rect x="456.25" y="233.27" width="121.35" height="2.60" fill="#ffac96"/>
<rect x="456.25" y="235.28" width="121.35" height="2.60" fill="#ff8263"/>
<rect x="456.25" y="237.28" width="121.35" height="2.60" fill="#ff6847"/>
<rect x="456.25" y="239.29" width="121.35" height="2.60" fill="#ff6f4e"/>
<rect x="456.25" y="241.29" width="121.35" height="2.60" fill="#ff6a49"/>
<rect x="456.25" y="243.29" width="121.35" height="2.60" fill="#ff5434"/>
<rect x="456.25" y="245.30" width="121.35" height="2.60" fill="#ff5c3c"/>
<rect x="456.25" y="247.30" width="121.35" height="2.60" fill="#ff7251"/>
<rect x="456.25" y="249.31" width="121.35" height="2.60" fill="#ff7858"/>
<rect x="456.25" y="251.31" width="121.35" height="2.60" fill="#ff5132"/>
<rect x="456.25" y="253.31" width="121.35" height="2.60" fill="#ff4024"/>
<rect x="456.25" y="255.32" width="121.35" height="2.60" fill="#ff1b0a"/>
<rect x="456.25" y="257.32" width="121.35" height="2.60" fill="#ff5a39"/>
<rect x="456.25" y="259.32" width="121.35" height="2.60" fill="#ff4528"/>
<rect x="456.25" y="261.33" width="121.35" height="2.60" fill="#ff4b2c"/>
<rect x="456.25" y="263.33" width="121.35" height="2.60" fill="#ff0000"/>
<rect x="456.25" y="265.34" width="121.35" height="2.60" fill="#ff0000"/>
<rect x="456.25" y="267.34" width="121.35" height="2.60" fill="#ff0000"/>
<rect x="456.25" y="269.34" width="121.35" height="2.60" fill="#c2a6f3"/>
<rect x="456.25" y="271.35" width="121.35" height="2.60" fill="#e2dbeb"/>
<rect x="456.25" y="273.35" width="121.35" height="2.60" fill="#cbb4f1"/>
<rect x="456.25" y="275.36" width="121.35" height="2.60" fill="#bea0f4"/>
<rect x="456.25" y="277.36" width="121.35" height="2.60" fill="#ac86f7"/>
<rect x="456.25" y="279.36" width="121.35" height="2.60" fill="#bea0f4"/>
<rect x="456.25" y="281.37" width="121.35" height="2.60" fill="#d0bbf0"/>
<rect x="456.25" y="283.37" width="121.35" height="2.60" fill="#e4deeb"/>
<rect x="456.25" y="285.37" width="121.35" height="2.60" fill="#e8e7e9"/>
<rect x="456.25" y="287.38" width="121.35" height="2.60" fill="#e6e3ea"/>
<rect x="456.25" y="289.38" width="121.35" height="2.60" fill="#ede3e1"/>
<rect x="456.25" y="291.39" width="121.35" height="2.60" fill="#f2dbd5"/>
<rect x="456.25" y="293.39" width="121.35" height="2.60" fill="#ffb4a0"/>
<rect x="456.25" y="295.39" width="121.35" height="2.60" fill="#ffb39f"/>
<rect x="456.25" y="297.40" width="121.35" height="2.60" fill="#ffa087"/>
<rect x="456.25" y="299.40" width="121.35" height="2.60" fill="#ad88f6"/>
<rect x="456.25" y="301.41" width="121.35" height="2.60" fill="#9065fa"/>
<rect x="456.25" y="303.41" width="121.35" height="2.60" fill="#b390f6"/>
<rect x="456.25" y="305.41" width="121.35" height="2.60" fill="#ba9af4"/>
<rect x="456.25" y="307.42" width="121.35" height="2.60" fill="#c0a3f3"/>
<rect x="456.25" y="309.42" width="121.35" height="2.60" fill="#c6acf2"/>
<rect x="456.25" y="311.42" width="121.35" height="2.60" fill="#cfb9f0"/>
<rect x="456.25" y="313.43" width="121.35" height="2.60" fill="#ba9af4"/>
<rect x="456.25" y="315.43" width="121.35" height="2.60" fill="#cbb4f1"/>
<rect x="456.25" y="317.44" width="121.35" height="2.60" fill="#d9cbee"/>
<rect x="456.25" y="319.44" width="121.35" height="2.60" fill="#d6c5ef"/>
<rect x="456.25" y="321.44" width="121.35" height="2.60" fill="#c0a3f3"/>
<rect x="456.25" y="323.45" width="121.35" height="2.60" fill="#e7e6ea"/>
<rect x="456.25" y="325.45" width="121.35" height="2.60" fill="#d8c9ee"/>
<rect x="456.25" y="327.46" width="121.35" height="2.60" fill="#dcd0ed"/>
<rect x="456.25" y="329.46" width="121.35" height="2.60" fill="#e3ddeb"/>
<rect x="456.25" y="331.46" width="121.35" height="2.60" fill="#ceb9f1"/>
<rect x="456.25" y="333.47" width="121.35" height="2.60" fill="#c3a7f3"/>
<rect x="456.25" y="335.47" width="121.35" height="2.60" fill="#cab1f1"/>
<rect x="456.25" y="337.48" width="121.35" height="2.60" fill="#bea0f4"/>
<rect x="456.25" y="339.48" width="121.35" height="2.60" fill="#e2dceb"/>
<rect x="456.25" y="341.48" width="121.35" height="2.60" fill="#e7e5ea"/>
<rect x="456.25" y="343.49" width="121.35" height="2.60" fill="#f0deda"/>
<rect x="456.25" y="345.49" width="121.35" height="2.60" fill="#ff4629"/>
<rect x="456.25" y="347.49" width="121.35" height="2.60" fill="#ff492b"/>
<rect x="456.25" y="349.50" width="121.35" height="2.60" fill="#ff7c5c"/>
<rect x="456.25" y="351.50" width="121.35" height="2.60" fill="#ff8b6e"/>
<rect x="456.25" y="353.51" width="121.35" height="2.60" fill="#ff8e70"/>
<rect x="456.25" y="355.51" width="121.35" height="2.60" fill="#ff9377"/>
<rect x="456.25" y="357.51" width="121.35" height="2.60" fill="#ff9478"/>
<rect x="456.25" y="359.52" width="121.35" height="2.60" fill="#ff9276"/>
<rect x="456.25" y="361.52" width="121.35" height="2.60" fill="#febcaa"/>
<rect x="456.25" y="363.53" width="121.35" height="2.60" fill="#ffae99"/>
<rect x="456.25" y="365.53" width="121.35" height="2.60" fill="#febcab"/>
<rect x="456.25" y="367.53" width="121.35" height="2.60" fill="#ffa48c"/>
<rect x="456.25" y="369.54" width="121.35" height="2.60" fill="#ff7e5e"/>
<rect x="456.25" y="371.54" width="121.35" height="2.60" fill="#ff8a6c"/>
<rect x="456.25" y="373.54" width="121.35" height="2.60" fill="#ff9478"/>
<rect x="456.25" y="375.55" width="121.35" height="2.60" fill="#ff9e84"/>
<rect x="456.25" y="377.55" width="121.35" height="2.60" fill="#ff9b81"/>
<rect x="456.25" y="379.56" width="121.35" height="2.60" fill="#ff6f4f"/>
<rect x="456.25" y="381.56" width="121.35" height="2.60" fill="#9b72f9"/>
<rect x="456.25" y="383.56" width="121.35" height="2.60" fill="#8357fb"/>
<rect x="456.25" y="385.57" width="121.35" height="2.60" fill="#e6e3ea"/>
<rect x="456.25" y="387.57" width="121.35" height="2.60" fill="#d4c2ef"/>
<rect x="456.25" y="389.58" width="121.35" height="2.60" fill="#8155fb"/>
<rect x="456.25" y="391.58" width="121.35" height="2.60" fill="#6f45fc"/>
<rect x="456.25" y="393.58" width="121.35" height="2.60" fill="#9f76f8"/>
<rect x="456.25" y="395.59" width="121.35" height="2.60" fill="#8155fb"/>
<rect x="456.25" y="397.59" width="121.35" height="2.60" fill="#7c51fb"/>
<rect x="456.25" y="399.60" width="121.35" height="2.60" fill="#2811ff"/>
<rect x="456.25" y="401.60" width="121.35" height="2.60" fill="#5731fd"/>
<rect x="456.25" y="403.60" width="121.35" height="2.60" fill="#0000ff"/>
<rect x="456.25" y="405.61" width="121.35" height="2.60" fill="#d3c0f0"/>
<rect x="456.25" y="407.61" width="121.35" height="2.60" fill="#c2a6f3"/>
<rect x="456.25" y="409.61" width="121.35" height="2.60" fill="#b18df6"/>
<rect x="456.25" y="411.62" width="121.35" height="2.60" fill="#ad88f6"/>
<rect x="456.25" y="413.62" width="121.35" height="2.60" fill="#c6abf2"/>
<rect x="456.25" y="415.63" width="121.35" height="2.60" fill="#c6acf2"/>
<rect x="456.25" y="417.63" width="121.35" height="2.60" fill="#b491f5"/>
<rect x="456.25" y="419.63" width="121.35" height="2.60" fill="#bea0f4"/>
<rect x="456.25" y="421.64" width="121.35" height="2.60" fill="#cfbaf0"/>
<rect x="456.25" y="423.64" width="121.35" height="2.60" fill="#d9cbee"/>
<rect x="456.25" y="425.65" width="121.35" height="2.60" fill="#ede3e1"/>
<rect x="456.25" y="427.65" width="121.35" height="2.60" fill="#7247fc"/>
<rect x="456.25" y="429.65" width="121.35" height="2.60" fill="#8c61fa"/>
<rect x="456.25" y="431.66" width="121.35" height="2.60" fill="#8b60fa"/>
<rect x="456.25" y="433.66" width="121.35" height="2.60" fill="#7c50fb"/>
<rect x="456.25" y="435.66" width="121.35" height="2.60" fill="#9267fa"/>
<rect x="456.25" y="437.67" width="121.35" height="2.60" fill="#d1bef0"/>
<rect x="456.25" y="439.67" width="121.35" height="2.60" fill="#c6acf2"/>
<rect x="456.25" y="441.68" width="121.35" height="2.60" fill="#dacdee"/>
<rect x="456.25" y="443.68" width="121.35" height="2.60" fill="#cbb4f1"/>
<rect x="456.25" y="445.68" width="121.35" height="2.60" fill="#c6acf2"/>
<rect x="456.25" y="447.69" width="121.35" height="2.60" fill="#c0a2f3"/>
<rect x="456.25" y="449.69" width="121.35" height="2.60" fill="#885cfa"/>
<rect x="456.25" y="451.70" width="121.35" height="2.60" fill="#b491f5"/>
<rect x="456.25" y="453.70" width="121.35" height="2.60" fill="#bd9ef4"/>
<rect x="456.25" y="455.70" width="121.35" height="2.60" fill="#a67ff7"/>
<rect x="456.25" y="457.71" width="121.35" height="2.60" fill="#9c72f9"/>
<rect x="456.25" y="459.71" width="121.35" height="2.60" fill="#b593f5"/>
<rect x="456.25" y="461.72" width="121.35" height="2.60" fill="#aa84f7"/>
<rect x="456.25" y="463.72" width="121.35" height="2.60" fill="#b390f6"/>
<rect x="456.25" y="465.72" width="121.35" height="2.60" fill="#996ff9"/>
<rect x="456.25" y="467.73" width="121.35" height="2.60" fill="#e7e6ea"/>
<rect x="456.25" y="469.73" width="121.35" height="2.60" fill="#e1daec"/>
<rect x="456.25" y="471.73" width="121.35" height="2.60" fill="#eee1dd"/>
<rect x="456.25" y="473.74" width="121.35" height="2.60" fill="#dcd1ed"/>
<rect x="456.25" y="475.74" width="121.35" height="2.60" fill="#fcc3b4"/>
<rect x="456.25" y="477.75" width="121.35" height="2.00" fill="#d8c9ee"/>
<rect x="577.00" y="143.10" width="121.35" height="2.60" fill="#b999f5"/>
<rect x="577.00" y="145.10" width="121.35" height="2.60" fill="#c0a2f3"/>
<rect x="577.00" y="147.11" width="121.35" height="2.60" fill="#a882f7"/>
<rect x="577.00" y="149.11" width="121.35" height="2.60" fill="#9267fa"/>
<rect x="577.00" y="151.12" width="121.35" height="2.60" fill="#ece5e3"/>
<rect x="577.00" y="153.12" width="121.35" height="2.60" fill="#f6d2c9"/>
<rect x="577.00" y="155.12" width="121.35" height="2.60" fill="#ede3e1"/>
<rect x="577.00" y="157.13" width="121.35" height="2.60" fill="#eee2df"/>
<rect x="577.00" y="159.13" width="121.35" height="2.60" fill="#d3c1ef"/>
<rect x="577.00" y="161.13" width="121.35" height="2.60" fill="#ddd2ed"/>
<rect x="577.00" y="163.14" width="121.35" height="2.60" fill="#cdb7f1"/>
<rect x="577.00" y="165.14" width="121.35" height="2.60" fill="#cbb4f1"/>
<rect x="577.00" y="167.15" width="121.35" height="2.60" fill="#a881f7"/>
<rect x="577.00" y="169.15" width="121.35" height="2.60" fill="#aa83f7"/>
<rect x="577.00" y="171.15" width="121.35" height="2.60" fill="#af8bf6"/>
<rect x="577.00" y="173.16" width="121.35" height="2.60" fill="#9d74f8"/>
<rect x="577.00" y="175.16" width="121.35" height="2.60" fill="#ae88f6"/>
<rect x="577.00" y="177.17" width="121.35" height="2.60" fill="#a27af8"/>
<rect x="577.00" y="179.17" width="121.35" height="2.60" fill="#a078f8"/>
<rect x="577.00" y="181.17" width="121.35" height="2.60" fill="#7c50fb"/>
<rect x="577.00" y="183.18" width="121.35" height="2.60" fill="#8f64fa"/>
<rect x="577.00" y="185.18" width="121.35" height="2.60" fill="#d4c2ef"/>
<rect x="577.00" y="187.19" width="121.35" height="2.60" fill="#bfa1f4"/>
<rect x="577.00" y="189.19" width="121.35" height="2.60" fill="#c8aff2"/>
<rect x="577.00" y="191.19" width="121.35" height="2.60" fill="#cdb6f1"/>
<rect x="577.00" y="193.20" width="121.35" height="2.60" fill="#d7c8ee"/>
<rect x="577.00" y="195.20" width="121.35" height="2.60" fill="#b18ef6"/>
<rect x="577.00" y="197.20" width="121.35" height="2.60" fill="#c2a6f3"/>
<rect x="577.00" y="199.21" width="121.35" height="2.60" fill="#f2dad4"/>
<rect x="577.00" y="201.21" width="121.35" height="2.60" fill="#bd9ef4"/>
<rect x="577.00" y="203.22" width="121.35" height="2.60" fill="#af8af6"/>
<rect x="577.00" y="205.22" width="121.35" height="2.60" fill="#c2a5f3"/>
<rect x="577.00" y="207.22" width="121.35" height="2.60" fill="#b390f6"/>
<rect x="577.00" y="209.23" width="121.35" height="2.60" fill="#a27af8"/>
<rect x="577.00" y="211.23" width="121.35" height="2.60" fill="#b795f5"/>
<rect x="577.00" y="213.24" width="121.35" height="2.60" fill="#c0a2f3"/>
<rect x="577.00" y="215.24" width="121.35" height="2.60" fill="#d8caee"/>
<rect x="577.00" y="217.24" width="121.35" height="2.60" fill="#ddd3ed"/>
<rect x="577.00" y="219.25" width="121.35" height="2.60" fill="#cbb4f1"/>
<rect x="577.00" y="221.25" width="121.35" height="2.60" fill="#9e75f8"/>
<rect x="577.00" y="223.25" width="121.35" height="2.60" fill="#ab85f7"/>
<rect x="577.00" y="225.26" width="121.35" height="2.60" fill="#a57ef7"/>
<rect x="577.00" y="227.26" width="121.35" height="2.60" fill="#b593f5"/>
<rect x="577.00" y="229.27" width="121.35" height="2.60" fill="#bd9ff4"/>
<rect x="577.00" y="231.27" width="121.35" height="2.60" fill="#af8af6"/>
<rect x="577.00" y="233.27" width="121.35" height="2.60" fill="#dacdee"/>
<rect x="577.00" y="235.28" width="121.35" height="2.60" fill="#d2bff0"/>
<rect x="577.00" y="237.28" width="121.35" height="2.60" fill="#d4c3ef"/>
<rect x="577.00" y="239.29" width="121.35" height="2.60" fill="#dbceed"/>
<rect x="577.00" y="241.29" width="121.35" height="2.60" fill="#c1a4f3"/>
<rect x="577.00" y="243.29" width="121.35" height="2.60" fill="#c1a4f3"/>
<rect x="577.00" y="245.30" width="121.35" height="2.60" fill="#cdb6f1"/>
<rect x="577.00" y="247.30" width="121.35" height="2.60" fill="#c0a3f3"/>
<rect x="577.00" y="249.31" width="121.35" height="2.60" fill="#b998f5"/>
<rect x="577.00" y="251.31" width="121.35" height="2.60" fill="#0000ff"/>
<rect x="577.00" y="253.31" width="121.35" height="2.60" fill="#be9ff4"/>
<rect x="577.00" y="255.32" width="121.35" height="2.60" fill="#ab86f7"/>
<rect x="577.00" y="257.32" width="121.35" height="2.60" fill="#b491f5"/>
<rect x="577.00" y="259.32" width="121.35" height="2.60" fill="#9d74f8"/>
<rect x="577.00" y="261.33" width="121.35" height="2.60" fill="#9c72f9"/>
<rect x="577.00" y="263.33" width="121.35" height="2.60" fill="#c2a6f3"/>
<rect x="577.00" y="265.34" width="121.35" height="2.60" fill="#996ff9"/>
<rect x="577.00" y="267.34" width="121.35" height="2.60" fill="#a882f7"/>
<rect x="577.00" y="269.34" width="121.35" height="2.60" fill="#9166fa"/>
<rect x="577.00" y="271.35" width="121.35" height="2.60" fill="#b08bf6"/>
<rect x="577.00" y="273.35" width="121.35" height="2.60" fill="#9f77f8"/>
<rect x="577.00" y="275.36" width="121.35" height="2.60" fill="#9a70f9"/>
<rect x="577.00" y="277.36" width="121.35" height="2.60" fill="#986ef9"/>
<rect x="577.00" y="279.36" width="121.35" height="2.60" fill="#986ef9"/>
<rect x="577.00" y="281.37" width="121.35" height="2.60" fill="#9166fa"/>
<rect x="577.00" y="283.37" width="121.35" height="2.60" fill="#8d62fa"/>
<rect x="577.00" y="285.37" width="121.35" height="2.60" fill="#875cfa"/>
<rect x="577.00" y="287.38" width="121.35" height="2.60" fill="#8e63fa"/>
<rect x="577.00" y="289.38" width="121.35" height="2.60" fill="#9065fa"/>
<rect x="577.00" y="291.39" width="121.35" height="2.60" fill="#9065fa"/>
<rect x="577.00" y="293.39" width="121.35" height="2.60" fill="#6b41fc"/>
<rect x="577.00" y="295.39" width="121.35" height="2.60" fill="#8054fb"/>
<rect x="577.00" y="297.40" width="121.35" height="2.60" fill="#240eff"/>
<rect x="577.00" y="299.40" width="121.35" height="2.60" fill="#9c72f9"/>
<rect x="577.00" y="301.41" width="121.35" height="2.60" fill="#9b72f9"/>
<rect x="577.00" y="303.41" width="121.35" height="2.60" fill="#ac86f7"/>
<rect x="577.00" y="305.41" width="121.35" height="2.60" fill="#9267fa"/>
<rect x="577.00" y="307.42" width="121.35" height="2.60" fill="#aa84f7"/>
<rect x="577.00" y="309.42" width="121.35" height="2.60" fill="#b28ef6"/>
<rect x="577.00" y="311.42" width="121.35" height="2.60" fill="#ae89f6"/>
<rect x="577.00" y="313.43" width="121.35" height="2.60" fill="#a078f8"/>
<rect x="577.00" y="315.43" width="121.35" height="2.60" fill="#8f63fa"/>
<rect x="577.00" y="317.44" width="121.35" height="2.60" fill="#a27af8"/>
<rect x="577.00" y="319.44" width="121.35" height="2.60" fill="#ac87f6"/>
<rect x="577.00" y="321.44" width="121.35" height="2.60" fill="#c1a4f3"/>
<rect x="577.00" y="323.45" width="121.35" height="2.60" fill="#d5c4ef"/>
<rect x="577.00" y="325.45" width="121.35" height="2.60" fill="#d3c1ef"/>
<rect x="577.00" y="327.46" width="121.35" height="2.60" fill="#e4e0eb"/>
<rect x="577.00" y="329.46" width="121.35" height="2.60" fill="#bd9df4"/>
<rect x="577.00" y="331.46" width="121.35" height="2.60" fill="#774cfc"/>
<rect x="577.00" y="333.47" width="121.35" height="2.60" fill="#865bfb"/>
<rect x="577.00" y="335.47" width="121.35" height="2.60" fill="#a077f8"/>
<rect x="577.00" y="337.48" width="121.35" height="2.60" fill="#956bf9"/>
<rect x="577.00" y="339.48" width="121.35" height="2.60" fill="#a47cf8"/>
<rect x="577.00" y="341.48" width="121.35" height="2.60" fill="#9c72f9"/>
<rect x="577.00" y="343.49" width="121.35" height="2.60" fill="#b491f5"/>
<rect x="577.00" y="345.49" width="121.35" height="2.60" fill="#a982f7"/>
<rect x="577.00" y="347.49" width="121.35" height="2.60" fill="#8d61fa"/>
<rect x="577.00" y="349.50" width="121.35" height="2.60" fill="#b18ef6"/>
<rect x="577.00" y="351.50" width="121.35" height="2.60" fill="#7e52fb"/>
<rect x="577.00" y="353.51" width="121.35" height="2.60" fill="#6f44fc"/>
<rect x="577.00" y="355.51" width="121.35" height="2.60" fill="#4d29fe"/>
<rect x="577.00" y="357.51" width="121.35" height="2.60" fill="#673dfd"/>
<rect x="577.00" y="359.52" width="121.35" height="2.60" fill="#391bfe"/>
<rect x="577.00" y="361.52" width="121.35" height="2.60" fill="#f3d9d2"/>
<rect x="577.00" y="363.53" width="121.35" height="2.60" fill="#f0deda"/>
<rect x="577.00" y="365.53" width="121.35" height="2.60" fill="#d2bff0"/>
<rect x="577.00" y="367.53" width="121.35" height="2.60" fill="#ddd3ed"/>
<rect x="577.00" y="369.54" width="121.35" height="2.60" fill="#c5aaf2"/>
<rect x="577.00" y="371.54" width="121.35" height="2.60" fill="#d3c0ef"/>
<rect x="577.00" y="373.54" width="121.35" height="2.60" fill="#c4a9f3"/>
<rect x="577.00" y="375.55" width="121.35" height="2.60" fill="#ab85f7"/>
<rect x="577.00" y="377.55" width="121.35" height="2.60" fill="#bd9ef4"/>
<rect x="577.00" y="379.56" width="121.35" height="2.60" fill="#b998f5"/>
<rect x="577.00" y="381.56" width="121.35" height="2.60" fill="#d1bdf0"/>
<rect x="577.00" y="383.56" width="121.35" height="2.60" fill="#c0a2f3"/>
<rect x="577.00" y="385.57" width="121.35" height="2.60" fill="#9c72f9"/>
<rect x="577.00" y="387.57" width="121.35" height="2.60" fill="#6f44fc"/>
<rect x="577.00" y="389.58" width="121.35" height="2.60" fill="#ff6848"/>
<rect x="577.00" y="391.58" width="121.35" height="2.60" fill="#ff5434"/>
<rect x="577.00" y="393.58" width="121.35" height="2.60" fill="#ff6040"/>
<rect x="577.00" y="395.59" width="121.35" height="2.60" fill="#ff6c4b"/>
<rect x="577.00" y="397.59" width="121.35" height="2.60" fill="#ff3c20"/>
<rect x="577.00" y="399.60" width="121.35" height="2.60" fill="#ff8162"/>
<rect x="577.00" y="401.60" width="121.35" height="2.60" fill="#ff896b"/>
<rect x="577.00" y="403.60" width="121.35" height="2.60" fill="#ff8f72"/>
<rect x="577.00" y="405.61" width="121.35" height="2.60" fill="#ff7959"/>
<rect x="577.00" y="407.61" width="121.35" height="2.60" fill="#ff0000"/>
<rect x="577.00" y="409.61" width="121.35" height="2.60" fill="#ff5e3e"/>
<rect x="577.00" y="411.62" width="121.35" height="2.60" fill="#ff6948"/>
<rect x="577.00" y="413.62" width="121.35" height="2.60" fill="#ffa992"/>
<rect x="577.00" y="415.63" width="121.35" height="2.60" fill="#ffb9a7"/>
<rect x="577.00" y="417.63" width="121.35" height="2.60" fill="#e6e2ea"/>
<rect x="577.00" y="419.63" width="121.35" height="2.60" fill="#e9e8e8"/>
<rect x="577.00" y="421.64" width="121.35" height="2.60" fill="#ffa890"/>
<rect x="577.00" y="423.64" width="121.35" height="2.60" fill="#ff9a7f"/>
<rect x="577.00" y="425.65" width="121.35" height="2.60" fill="#ffb7a5"/>
<rect x="577.00" y="427.65" width="121.35" height="2.60" fill="#e2dceb"/>
<rect x="577.00" y="429.65" width="121.35" height="2.60" fill="#ece4e2"/>
<rect x="577.00" y="431.66" width="121.35" height="2.60" fill="#ff7151"/>
<rect x="577.00" y="433.66" width="121.35" height="2.60" fill="#ffac96"/>
<rect x="577.00" y="435.66" width="121.35" height="2.60" fill="#ff6746"/>
<rect x="577.00" y="437.67" width="121.35" height="2.60" fill="#ff6343"/>
<rect x="577.00" y="439.67" width="121.35" height="2.60" fill="#ffb4a0"/>
<rect x="577.00" y="441.68" width="121.35" height="2.60" fill="#ff997e"/>
<rect x="577.00" y="443.68" width="121.35" height="2.60" fill="#fbc4b6"/>
<rect x="577.00" y="445.68" width="121.35" height="2.60" fill="#ffa790"/>
<rect x="577.00" y="447.69" width="121.35" height="2.60" fill="#febdac"/>
<rect x="577.00" y="449.69" width="121.35" height="2.60" fill="#ff8769"/>
<rect x="577.00" y="451.70" width="121.35" height="2.60" fill="#ff997e"/>
<rect x="577.00" y="453.70" width="121.35" height="2.60" fill="#ff7858"/>
<rect x="577.00" y="455.70" width="121.35" height="2.60" fill="#ff9174"/>
<rect x="577.00" y="457.71" width="121.35" height="2.60" fill="#ffa48b"/>
<rect x="577.00" y="459.71" width="121.35" height="2.60" fill="#ffb09b"/>
<rect x="577.00" y="461.72" width="121.35" height="2.60" fill="#ff9d83"/>
<rect x="577.00" y="463.72" width="121.35" height="2.60" fill="#ffa58d"/>
<rect x="577.00" y="465.72" width="121.35" height="2.60" fill="#ffa289"/>
<rect x="577.00" y="467.73" width="121.35" height="2.60" fill="#ffb7a4"/>
<rect x="577.00" y="469.73" width="121.35" height="2.60" fill="#ff6343"/>
<rect x="577.00" y="471.73" width="121.35" height="2.60" fill="#ff6343"/>
<rect x="577.00" y="473.74" width="121.35" height="2.60" fill="#ff4b2d"/>
<rect x="577.00" y="475.74" width="121.35" height="2.60" fill="#d1bef0"/>
<rect x="577.00" y="477.75" width="121.35" height="2.00" fill="#c9b0f2"/>
<rect x="697.75" y="143.10" width="121.35" height="2.60" fill="#b390f6"/>
<rect x="697.75" y="145.10" width="121.35" height="2.60" fill="#b491f5"/>
<rect x="697.75" y="147.11" width="121.35" height="2.60" fill="#bc9cf4"/>
<rect x="697.75" y="149.11" width="121.35" height="2.60" fill="#d0bcf0"/>
<rect x="697.75" y="151.12" width="121.35" height="2.60" fill="#d8c9ee"/>
<rect x="697.75" y="153.12" width="121.35" height="2.60" fill="#6139fd"/>
<rect x="697.75" y="155.12" width="121.35" height="2.60" fill="#8a5efa"/>
<rect x="697.75" y="157.13" width="121.35" height="2.60" fill="#784cfc"/>
<rect x="697.75" y="159.13" width="121.35" height="2.60" fill="#7247fc"/>
<rect x="697.75" y="161.13" width="121.35" height="2.60" fill="#9166fa"/>
<rect x="697.75" y="163.14" width="121.35" height="2.60" fill="#865afb"/>
<rect x="697.75" y="165.14" width="121.35" height="2.60" fill="#a57ef7"/>
<rect x="697.75" y="167.15" width="121.35" height="2.60" fill="#895dfa"/>
<rect x="697.75" y="169.15" width="121.35" height="2.60" fill="#9469f9"/>
<rect x="697.75" y="171.15" width="121.35" height="2.60" fill="#d8c9ee"/>
<rect x="697.75" y="173.16" width="121.35" height="2.60" fill="#e3ddeb"/>
<rect x="697.75" y="175.16" width="121.35" height="2.60" fill="#d1bef0"/>
<rect x="697.75" y="177.17" width="121.35" height="2.60" fill="#976cf9"/>
<rect x="697.75" y="179.17" width="121.35" height="2.60" fill="#9e75f8"/>
<rect x="697.75" y="181.17" width="121.35" height="2.60" fill="#e5e1ea"/>
<rect x="697.75" y="183.18" width="121.35" height="2.60" fill="#e7e4ea"/>
<rect x="697.75" y="185.18" width="121.35" height="2.60" fill="#b795f5"/>
<rect x="697.75" y="187.19" width="121.35" height="2.60" fill="#b28ff6"/>
<rect x="697.75" y="189.19" width="121.35" height="2.60" fill="#b28ef6"/>
<rect x="697.75" y="191.19" width="121.35" height="2.60" fill="#c3a7f3"/>
<rect x="697.75" y="193.20" width="121.35" height="2.60" fill="#c9b0f2"/>
<rect x="697.75" y="195.20" width="121.35" height="2.60" fill="#c4a8f3"/>
<rect x="697.75" y="197.20" width="121.35" height="2.60" fill="#d0bbf0"/>
<rect x="697.75" y="199.21" width="121.35" height="2.60" fill="#7b4ffb"/>
<rect x="697.75" y="201.21" width="121.35" height="2.60" fill="#885dfa"/>
<rect x="697.75" y="203.22" width="121.35" height="2.60" fill="#dacdee"/>
<rect x="697.75" y="205.22" width="121.35" height="2.60" fill="#cfbbf0"/>
<rect x="697.75" y="207.22" width="121.35" height="2.60" fill="#d7c7ee"/>
<rect x="697.75" y="209.23" width="121.35" height="2.60" fill="#ceb8f1"/>
<rect x="697.75" y="211.23" width="121.35" height="2.60" fill="#633afd"/>
<rect x="697.75" y="213.24" width="121.35" height="2.60" fill="#986df9"/>
<rect x="697.75" y="215.24" width="121.35" height="2.60" fill="#a077f8"/>
<rect x="697.75" y="217.24" width="121.35" height="2.60" fill="#9b71f9"/>
<rect x="697.75" y="219.25" width="121.35" height="2.60" fill="#8155fb"/>
<rect x="697.75" y="221.25" width="121.35" height="2.60" fill="#9369f9"/>
<rect x="697.75" y="223.25" width="121.35" height="2.60" fill="#9a70f9"/>
<rect x="697.75" y="225.26" width="121.35" height="2.60" fill="#9b72f9"/>
<rect x="697.75" y="227.26" width="121.35" height="2.60" fill="#9f76f8"/>
<rect x="697.75" y="229.27" width="121.35" height="2.60" fill="#885dfa"/>
<rect x="697.75" y="231.27" width="121.35" height="2.60" fill="#966cf9"/>
<rect x="697.75" y="233.27" width="121.35" height="2.60" fill="#9c73f8"/>
<rect x="697.75" y="235.28" width="121.35" height="2.60" fill="#8d61fa"/>
<rect x="697.75" y="237.28" width="121.35" height="2.60" fill="#8559fb"/>
<rect x="697.75" y="239.29" width="121.35" height="2.60" fill="#956af9"/>
<rect x="697.75" y="241.29" width="121.35" height="2.60" fill="#a57df7"/>
<rect x="697.75" y="243.29" width="121.35" height="2.60" fill="#8458fb"/>
<rect x="697.75" y="245.30" width="121.35" height="2.60" fill="#9166fa"/>
<rect x="697.75" y="247.30" width="121.35" height="2.60" fill="#7c50fb"/>
<rect x="697.75" y="249.31" width="121.35" height="2.60" fill="#e2dbeb"/>
<rect x="697.75" y="251.31" width="121.35" height="2.60" fill="#ede2df"/>
<rect x="697.75" y="253.31" width="121.35" height="2.60" fill="#9368f9"/>
<rect x="697.75" y="255.32" width="121.35" height="2.60" fill="#8e63fa"/>
<rect x="697.75" y="257.32" width="121.35" height="2.60" fill="#cbb4f1"/>
<rect x="697.75" y="259.32" width="121.35" height="2.60" fill="#d9ccee"/>
<rect x="697.75" y="261.33" width="121.35" height="2.60" fill="#c3a7f3"/>
<rect x="697.75" y="263.33" width="121.35" height="2.60" fill="#ccb4f1"/>
<rect x="697.75" y="265.34" width="121.35" height="2.60" fill="#d2c0f0"/>
<rect x="697.75" y="267.34" width="121.35" height="2.60" fill="#c7adf2"/>
<rect x="697.75" y="269.34" width="121.35" height="2.60" fill="#ac86f7"/>
<rect x="697.75" y="271.35" width="121.35" height="2.60" fill="#aa84f7"/>
<rect x="697.75" y="273.35" width="121.35" height="2.60" fill="#ab85f7"/>
<rect x="697.75" y="275.36" width="121.35" height="2.60" fill="#ac86f7"/>
<rect x="697.75" y="277.36" width="121.35" height="2.60" fill="#ae89f6"/>
<rect x="697.75" y="279.36" width="121.35" height="2.60" fill="#693ffd"/>
<rect x="697.75" y="281.37" width="121.35" height="2.60" fill="#8459fb"/>
<rect x="697.75" y="283.37" width="121.35" height="2.60" fill="#6239fd"/>
<rect x="697.75" y="285.37" width="121.35" height="2.60" fill="#4624fe"/>
<rect x="697.75" y="287.38" width="121.35" height="2.60" fill="#ab85f7"/>
<rect x="697.75" y="289.38" width="121.35" height="2.60" fill="#946af9"/>
<rect x="697.75" y="291.39" width="121.35" height="2.60" fill="#8e63fa"/>
<rect x="697.75" y="293.39" width="121.35" height="2.60" fill="#8d62fa"/>
<rect x="697.75" y="295.39" width="121.35" height="2.60" fill="#d2bff0"/>
<rect x="697.75" y="297.40" width="121.35" height="2.60" fill="#a27af8"/>
<rect x="697.75" y="299.40" width="121.35" height="2.60" fill="#9e74f8"/>
<rect x="697.75" y="301.41" width="121.35" height="2.60" fill="#a982f7"/>
<rect x="697.75" y="303.41" width="121.35" height="2.60" fill="#bea0f4"/>
<rect x="697.75" y="305.41" width="121.35" height="2.60" fill="#bb9bf4"/>
<rect x="697.75" y="307.42" width="121.35" height="2.60" fill="#b18df6"/>
<rect x="697.75" y="309.42" width="121.35" height="2.60" fill="#b795f5"/>
<rect x="697.75" y="311.42" width="121.35" height="2.60" fill="#a27af8"/>
<rect x="697.75" y="313.43" width="121.35" height="2.60" fill="#c4a9f3"/>
<rect x="697.75" y="315.43" width="121.35" height="2.60" fill="#c4a9f3"/>
<rect x="697.75" y="317.44" width="121.35" height="2.60" fill="#cbb4f1"/>
<rect x="697.75" y="319.44" width="121.35" height="2.60" fill="#d6c5ef"/>
<rect x="697.75" y="321.44" width="121.35" height="2.60" fill="#bd9ef4"/>
<rect x="697.75" y="323.45" width="121.35" height="2.60" fill="#f2dad4"/>
<rect x="697.75" y="325.45" width="121.35" height="2.60" fill="#d7c7ee"/>
<rect x="697.75" y="327.46" width="121.35" height="2.60" fill="#d7c7ee"/>
<rect x="697.75" y="329.46" width="121.35" height="2.60" fill="#e9e9e8"/>
<rect x="697.75" y="331.46" width="121.35" height="2.60" fill="#d9cbee"/>
<rect x="697.75" y="333.47" width="121.35" height="2.60" fill="#ceb8f1"/>
<rect x="697.75" y="335.47" width="121.35" height="2.60" fill="#ae88f6"/>
<rect x="697.75" y="337.48" width="121.35" height="2.60" fill="#c1a4f3"/>
<rect x="697.75" y="339.48" width="121.35" height="2.60" fill="#d9ccee"/>
<rect x="697.75" y="341.48" width="121.35" height="2.60" fill="#dacdee"/>
<rect x="697.75" y="343.49" width="121.35" height="2.60" fill="#7146fc"/>
<rect x="697.75" y="345.49" width="121.35" height="2.60" fill="#7549fc"/>
<rect x="697.75" y="347.49" width="121.35" height="2.60" fill="#6138fd"/>
<rect x="697.75" y="349.50" width="121.35" height="2.60" fill="#5a33fd"/>
<rect x="697.75" y="351.50" width="121.35" height="2.60" fill="#5b34fd"/>
<rect x="697.75" y="353.51" width="121.35" height="2.60" fill="#673dfd"/>
<rect x="697.75" y="355.51" width="121.35" height="2.60" fill="#e5e1ea"/>
<rect x="697.75" y="357.51" width="121.35" height="2.60" fill="#f2dbd5"/>
<rect x="697.75" y="359.52" width="121.35" height="2.60" fill="#9a70f9"/>
<rect x="697.75" y="361.52" width="121.35" height="2.60" fill="#b998f5"/>
<rect x="697.75" y="363.53" width="121.35" height="2.60" fill="#e3deeb"/>
<rect x="697.75" y="365.53" width="121.35" height="2.60" fill="#e4e0eb"/>
<rect x="697.75" y="367.53" width="121.35" height="2.60" fill="#f0ddd8"/>
<rect x="697.75" y="369.54" width="121.35" height="2.60" fill="#ece4e2"/>
<rect x="697.75" y="371.54" width="121.35" height="2.60" fill="#e7e5ea"/>
<rect x="697.75" y="373.54" width="121.35" height="2.60" fill="#dfd5ec"/>
<rect x="697.75" y="375.55" width="121.35" height="2.60" fill="#e8e7e9"/>
<rect x="697.75" y="377.55" width="121.35" height="2.60" fill="#e3ddeb"/>
<rect x="697.75" y="379.56" width="121.35" height="2.60" fill="#b28ef6"/>
<rect x="697.75" y="381.56" width="121.35" height="2.60" fill="#af8af6"/>
<rect x="697.75" y="383.56" width="121.35" height="2.60" fill="#c1a4f3"/>
<rect x="697.75" y="385.57" width="121.35" height="2.60" fill="#c0a2f3"/>
<rect x="697.75" y="387.57" width="121.35" height="2.60" fill="#a57ef7"/>
<rect x="697.75" y="389.58" width="121.35" height="2.60" fill="#ff8263"/>
<rect x="697.75" y="391.58" width="121.35" height="2.60" fill="#ff9174"/>
<rect x="697.75" y="393.58" width="121.35" height="2.60" fill="#ff6f4e"/>
<rect x="697.75" y="395.59" width="121.35" height="2.60" fill="#ffa58d"/>
<rect x="697.75" y="397.59" width="121.35" height="2.60" fill="#b491f5"/>
<rect x="697.75" y="399.60" width="121.35" height="2.60" fill="#b592f5"/>
<rect x="697.75" y="401.60" width="121.35" height="2.60" fill="#ffbaa8"/>
<rect x="697.75" y="403.60" width="121.35" height="2.60" fill="#ffa087"/>
<rect x="697.75" y="405.61" width="121.35" height="2.60" fill="#febcab"/>
<rect x="697.75" y="407.61" width="121.35" height="2.60" fill="#ffb29d"/>
<rect x="697.75" y="409.61" width="121.35" height="2.60" fill="#ff9276"/>
<rect x="697.75" y="411.62" width="121.35" height="2.60" fill="#fcc3b4"/>
<rect x="697.75" y="413.62" width="121.35" height="2.60" fill="#ff6545"/>
<rect x="697.75" y="415.63" width="121.35" height="2.60" fill="#ff6d4c"/>
<rect x="697.75" y="417.63" width="121.35" height="2.60" fill="#ff2611"/>
<rect x="697.75" y="419.63" width="121.35" height="2.60" fill="#ff6948"/>
<rect x="697.75" y="421.64" width="121.35" height="2.60" fill="#ff8364"/>
<rect x="697.75" y="423.64" width="121.35" height="2.60" fill="#ff8a6c"/>
<rect x="697.75" y="425.65" width="121.35" height="2.60" fill="#ffab95"/>
<rect x="697.75" y="427.65" width="121.35" height="2.60" fill="#ff6f4e"/>
<rect x="697.75" y="429.65" width="121.35" height="2.60" fill="#ff8162"/>
<rect x="697.75" y="431.66" width="121.35" height="2.60" fill="#ff977c"/>
<rect x="697.75" y="433.66" width="121.35" height="2.60" fill="#ff7656"/>
<rect x="697.75" y="435.66" width="121.35" height="2.60" fill="#ffb09b"/>
<rect x="697.75" y="437.67" width="121.35" height="2.60" fill="#ffb8a5"/>
<rect x="697.75" y="439.67" width="121.35" height="2.60" fill="#ffa993"/>
<rect x="697.75" y="441.68" width="121.35" height="2.60" fill="#ffaf99"/>
<rect x="697.75" y="443.68" width="121.35" height="2.60" fill="#ffb9a7"/>
<rect x="697.75" y="445.68" width="121.35" height="2.60" fill="#ffb09b"/>
<rect x="697.75" y="447.69" width="121.35" height="2.60" fill="#ff9a80"/>
<rect x="697.75" y="449.69" width="121.35" height="2.60" fill="#e8e8e9"/>
<rect x="697.75" y="451.70" width="121.35" height="2.60" fill="#e5e1ea"/>
<rect x="697.75" y="453.70" width="121.35" height="2.60" fill="#e8e7e9"/>
<rect x="697.75" y="455.70" width="121.35" height="2.60" fill="#e8e6e9"/>
<rect x="697.75" y="457.71" width="121.35" height="2.60" fill="#eae8e8"/>
<rect x="697.75" y="459.71" width="121.35" height="2.60" fill="#e9e9e9"/>
<rect x="697.75" y="461.72" width="121.35" height="2.60" fill="#eee2df"/>
<rect x="697.75" y="463.72" width="121.35" height="2.60" fill="#ffb29e"/>
<rect x="697.75" y="465.72" width="121.35" height="2.60" fill="#fcc4b5"/>
<rect x="697.75" y="467.73" width="121.35" height="2.60" fill="#ffb6a2"/>
<rect x="697.75" y="469.73" width="121.35" height="2.60" fill="#eae7e6"/>
<rect x="697.75" y="471.73" width="121.35" height="2.60" fill="#cab2f1"/>
<rect x="697.75" y="473.74" width="121.35" height="2.60" fill="#f2dad4"/>
<rect x="697.75" y="475.74" width="121.35" height="2.60" fill="#e8e6e9"/>
<rect x="697.75" y="477.75" width="121.35" height="2.00" fill="#ffa790"/>
<rect x="818.50" y="143.10" width="121.35" height="2.60" fill="#986df9"/>
<rect x="818.50" y="145.10" width="121.35" height="2.60" fill="#966cf9"/>
<rect x="818.50" y="147.11" width="121.35" height="2.60" fill="#8357fb"/>
<rect x="818.50" y="149.11" width="121.35" height="2.60" fill="#7e53fb"/>
<rect x="818.50" y="151.12" width="121.35" height="2.60" fill="#b28ef6"/>
<rect x="818.50" y="153.12" width="121.35" height="2.60" fill="#c2a6f3"/>
<rect x="818.50" y="155.12" width="121.35" height="2.60" fill="#8b60fa"/>
<rect x="818.50" y="157.13" width="121.35" height="2.60" fill="#9065fa"/>
<rect x="818.50" y="159.13" width="121.35" height="2.60" fill="#986ef9"/>
<rect x="818.50" y="161.13" width="121.35" height="2.60" fill="#8a5ffa"/>
<rect x="818.50" y="163.14" width="121.35" height="2.60" fill="#8e63fa"/>
<rect x="818.50" y="165.14" width="121.35" height="2.60" fill="#8e63fa"/>
<rect x="818.50" y="167.15" width="121.35" height="2.60" fill="#996ff9"/>
<rect x="818.50" y="169.15" width="121.35" height="2.60" fill="#a178f8"/>
<rect x="818.50" y="171.15" width="121.35" height="2.60" fill="#a47df8"/>
<rect x="818.50" y="173.16" width="121.35" height="2.60" fill="#966cf9"/>
<rect x="818.50" y="175.16" width="121.35" height="2.60" fill="#c1a3f3"/>
<rect x="818.50" y="177.17" width="121.35" height="2.60" fill="#b28ef6"/>
<rect x="818.50" y="179.17" width="121.35" height="2.60" fill="#aa83f7"/>
<rect x="818.50" y="181.17" width="121.35" height="2.60" fill="#c5aaf2"/>
<rect x="818.50" y="183.18" width="121.35" height="2.60" fill="#9b72f9"/>
<rect x="818.50" y="185.18" width="121.35" height="2.60" fill="#774bfc"/>
<rect x="818.50" y="187.19" width="121.35" height="2.60" fill="#774cfc"/>
<rect x="818.50" y="189.19" width="121.35" height="2.60" fill="#4624fe"/>
<rect x="818.50" y="191.19" width="121.35" height="2.60" fill="#6038fd"/>
<rect x="818.50" y="193.20" width="121.35" height="2.60" fill="#4e2afe"/>
<rect x="818.50" y="195.20" width="121.35" height="2.60" fill="#0000ff"/>
<rect x="818.50" y="197.20" width="121.35" height="2.60" fill="#6c41fc"/>
<rect x="818.50" y="199.21" width="121.35" height="2.60" fill="#8d61fa"/>
<rect x="818.50" y="201.21" width="121.35" height="2.60" fill="#b897f5"/>
<rect x="818.50" y="203.22" width="121.35" height="2.60" fill="#b897f5"/>
<rect x="818.50" y="205.22" width="121.35" height="2.60" fill="#aa84f7"/>
<rect x="818.50" y="207.22" width="121.35" height="2.60" fill="#ac87f7"/>
<rect x="818.50" y="209.23" width="121.35" height="2.60" fill="#a57ef7"/>
<rect x="818.50" y="211.23" width="121.35" height="2.60" fill="#a882f7"/>
<rect x="818.50" y="213.24" width="121.35" height="2.60" fill="#a57ef7"/>
<rect x="818.50" y="215.24" width="121.35" height="2.60" fill="#ae89f6"/>
<rect x="818.50" y="217.24" width="121.35" height="2.60" fill="#a47df8"/>
<rect x="818.50" y="219.25" width="121.35" height="2.60" fill="#895dfa"/>
<rect x="818.50" y="221.25" width="121.35" height="2.60" fill="#7b50fb"/>
<rect x="818.50" y="223.25" width="121.35" height="2.60" fill="#9e75f8"/>
<rect x="818.50" y="225.26" width="121.35" height="2.60" fill="#8c60fa"/>
<rect x="818.50" y="227.26" width="121.35" height="2.60" fill="#b795f5"/>
<rect x="818.50" y="229.27" width="121.35" height="2.60" fill="#9267fa"/>
<rect x="818.50" y="231.27" width="121.35" height="2.60" fill="#a179f8"/>
<rect x="818.50" y="233.27" width="121.35" height="2.60" fill="#a780f7"/>
<rect x="818.50" y="235.28" width="121.35" height="2.60" fill="#c5abf2"/>
<rect x="818.50" y="237.28" width="121.35" height="2.60" fill="#ba99f4"/>
<rect x="818.50" y="239.29" width="121.35" height="2.60" fill="#b491f5"/>
<rect x="818.50" y="241.29" width="121.35" height="2.60" fill="#c4a9f3"/>
<rect x="818.50" y="243.29" width="121.35" height="2.60" fill="#6f44fc"/>
<rect x="818.50" y="245.30" width="121.35" height="2.60" fill="#7b4ffb"/>
<rect x="818.50" y="247.30" width="121.35" height="2.60" fill="#794efc"/>
<rect x="818.50" y="249.31" width="121.35" height="2.60" fill="#7f54fb"/>
<rect x="818.50" y="251.31" width="121.35" height="2.60" fill="#c3a6f3"/>
<rect x="818.50" y="253.31" width="121.35" height="2.60" fill="#d6c6ef"/>
<rect x="818.50" y="255.32" width="121.35" height="2.60" fill="#885cfa"/>
<rect x="818.50" y="257.32" width="121.35" height="2.60" fill="#683efd"/>
<rect x="818.50" y="259.32" width="121.35" height="2.60" fill="#7c50fb"/>
<rect x="818.50" y="261.33" width="121.35" height="2.60" fill="#a57df7"/>
<rect x="818.50" y="263.33" width="121.35" height="2.60" fill="#6e43fc"/>
<rect x="818.50" y="265.34" width="121.35" height="2.60" fill="#9e75f8"/>
<rect x="818.50" y="267.34" width="121.35" height="2.60" fill="#794dfc"/>
<rect x="818.50" y="269.34" width="121.35" height="2.60" fill="#dfd6ec"/>
<rect x="818.50" y="271.35" width="121.35" height="2.60" fill="#d9caee"/>
<rect x="818.50" y="273.35" width="121.35" height="2.60" fill="#e2dbeb"/>
<rect x="818.50" y="275.36" width="121.35" height="2.60" fill="#b592f5"/>
<rect x="818.50" y="277.36" width="121.35" height="2.60" fill="#c2a6f3"/>
<rect x="818.50" y="279.36" width="121.35" height="2.60" fill="#c7adf2"/>
<rect x="818.50" y="281.37" width="121.35" height="2.60" fill="#c7adf2"/>
<rect x="818.50" y="283.37" width="121.35" height="2.60" fill="#cab2f1"/>
<rect x="818.50" y="285.37" width="121.35" height="2.60" fill="#c8aff2"/>
<rect x="818.50" y="287.38" width="121.35" height="2.60" fill="#f3d9d2"/>
<rect x="818.50" y="289.38" width="121.35" height="2.60" fill="#eee0dd"/>
<rect x="818.50" y="291.39" width="121.35" height="2.60" fill="#e9e9e9"/>
<rect x="818.50" y="293.39" width="121.35" height="2.60" fill="#c9b0f2"/>
<rect x="818.50" y="295.39" width="121.35" height="2.60" fill="#d6c6ef"/>
<rect x="818.50" y="297.40" width="121.35" height="2.60" fill="#d2bff0"/>
<rect x="818.50" y="299.40" width="121.35" height="2.60" fill="#d1bdf0"/>
<rect x="818.50" y="301.41" width="121.35" height="2.60" fill="#a179f8"/>
<rect x="818.50" y="303.41" width="121.35" height="2.60" fill="#9a70f9"/>
<rect x="818.50" y="305.41" width="121.35" height="2.60" fill="#885cfa"/>
<rect x="818.50" y="307.42" width="121.35" height="2.60" fill="#8c60fa"/>
<rect x="818.50" y="309.42" width="121.35" height="2.60" fill="#a67ff7"/>
<rect x="818.50" y="311.42" width="121.35" height="2.60" fill="#956af9"/>
<rect x="818.50" y="313.43" width="121.35" height="2.60" fill="#dacdee"/>
<rect x="818.50" y="315.43" width="121.35" height="2.60" fill="#cbb4f1"/>
<rect x="818.50" y="317.44" width="121.35" height="2.60" fill="#dbceed"/>
<rect x="818.50" y="319.44" width="121.35" height="2.60" fill="#b998f5"/>
<rect x="818.50" y="321.44" width="121.35" height="2.60" fill="#875bfb"/>
<rect x="818.50" y="323.45" width="121.35" height="2.60" fill="#ae89f6"/>
<rect x="818.50" y="325.45" width="121.35" height="2.60" fill="#986df9"/>
<rect x="818.50" y="327.46" width="121.35" height="2.60" fill="#764bfc"/>
<rect x="818.50" y="329.46" width="121.35" height="2.60" fill="#9d74f8"/>
<rect x="818.50" y="331.46" width="121.35" height="2.60" fill="#bb9bf4"/>
<rect x="818.50" y="333.47" width="121.35" height="2.60" fill="#a27af8"/>
<rect x="818.50" y="335.47" width="121.35" height="2.60" fill="#956af9"/>
<rect x="818.50" y="337.48" width="121.35" height="2.60" fill="#956af9"/>
<rect x="818.50" y="339.48" width="121.35" height="2.60" fill="#a27af8"/>
<rect x="818.50" y="341.48" width="121.35" height="2.60" fill="#956af9"/>
<rect x="818.50" y="343.49" width="121.35" height="2.60" fill="#ae8af6"/>
<rect x="818.50" y="345.49" width="121.35" height="2.60" fill="#8a5efa"/>
<rect x="818.50" y="347.49" width="121.35" height="2.60" fill="#9f77f8"/>
<rect x="818.50" y="349.50" width="121.35" height="2.60" fill="#986df9"/>
<rect x="818.50" y="351.50" width="121.35" height="2.60" fill="#976df9"/>
<rect x="818.50" y="353.51" width="121.35" height="2.60" fill="#a982f7"/>
<rect x="818.50" y="355.51" width="121.35" height="2.60" fill="#9f76f8"/>
<rect x="818.50" y="357.51" width="121.35" height="2.60" fill="#966bf9"/>
<rect x="818.50" y="359.52" width="121.35" height="2.60" fill="#8a5efa"/>
<rect x="818.50" y="361.52" width="121.35" height="2.60" fill="#966bf9"/>
<rect x="818.50" y="363.53" width="121.35" height="2.60" fill="#522dfe"/>
<rect x="818.50" y="365.53" width="121.35" height="2.60" fill="#4121fe"/>
<rect x="818.50" y="367.53" width="121.35" height="2.60" fill="#865afb"/>
<rect x="818.50" y="369.54" width="121.35" height="2.60" fill="#966cf9"/>
<rect x="818.50" y="371.54" width="121.35" height="2.60" fill="#8f64fa"/>
<rect x="818.50" y="373.54" width="121.35" height="2.60" fill="#b08cf6"/>
<rect x="818.50" y="375.55" width="121.35" height="2.60" fill="#b796f5"/>
<rect x="818.50" y="377.55" width="121.35" height="2.60" fill="#b18df6"/>
<rect x="818.50" y="379.56" width="121.35" height="2.60" fill="#b390f5"/>
<rect x="818.50" y="381.56" width="121.35" height="2.60" fill="#c2a5f3"/>
<rect x="818.50" y="383.56" width="121.35" height="2.60" fill="#c1a4f3"/>
<rect x="818.50" y="385.57" width="121.35" height="2.60" fill="#ccb4f1"/>
<rect x="818.50" y="387.57" width="121.35" height="2.60" fill="#d6c5ef"/>
<rect x="818.50" y="389.58" width="121.35" height="2.60" fill="#ff5e3d"/>
<rect x="818.50" y="391.58" width="121.35" height="2.60" fill="#ff6848"/>
<rect x="818.50" y="393.58" width="121.35" height="2.60" fill="#ff603f"/>
<rect x="818.50" y="395.59" width="121.35" height="2.60" fill="#ff7454"/>
<rect x="818.50" y="397.59" width="121.35" height="2.60" fill="#ff9c82"/>
<rect x="818.50" y="399.60" width="121.35" height="2.60" fill="#ff7e5e"/>
<rect x="818.50" y="401.60" width="121.35" height="2.60" fill="#ff7959"/>
<rect x="818.50" y="403.60" width="121.35" height="2.60" fill="#ff8869"/>
<rect x="818.50" y="405.61" width="121.35" height="2.60" fill="#ff6c4b"/>
<rect x="818.50" y="407.61" width="121.35" height="2.60" fill="#ff9b81"/>
<rect x="818.50" y="409.61" width="121.35" height="2.60" fill="#ff7959"/>
<rect x="818.50" y="411.62" width="121.35" height="2.60" fill="#ff7454"/>
<rect x="818.50" y="413.62" width="121.35" height="2.60" fill="#ff9d83"/>
<rect x="818.50" y="415.63" width="121.35" height="2.60" fill="#ffa289"/>
<rect x="818.50" y="417.63" width="121.35" height="2.60" fill="#ffa289"/>
<rect x="818.50" y="419.63" width="121.35" height="2.60" fill="#ff6e4e"/>
<rect x="818.50" y="421.64" width="121.35" height="2.60" fill="#ff6040"/>
<rect x="818.50" y="423.64" width="121.35" height="2.60" fill="#ff7353"/>
<rect x="818.50" y="425.65" width="121.35" height="2.60" fill="#ff7353"/>
<rect x="818.50" y="427.65" width="121.35" height="2.60" fill="#ff0000"/>
<rect x="818.50" y="429.65" width="121.35" height="2.60" fill="#ff0000"/>
<rect x="818.50" y="431.66" width="121.35" height="2.60" fill="#dbcfed"/>
<rect x="818.50" y="433.66" width="121.35" height="2.60" fill="#e1daeb"/>
<rect x="818.50" y="435.66" width="121.35" height="2.60" fill="#cbb3f1"/>
<rect x="818.50" y="437.67" width="121.35" height="2.60" fill="#dcd0ed"/>
<rect x="818.50" y="439.67" width="121.35" height="2.60" fill="#ff987d"/>
<rect x="818.50" y="441.68" width="121.35" height="2.60" fill="#ffa38b"/>
<rect x="818.50" y="443.68" width="121.35" height="2.60" fill="#ffa188"/>
<rect x="818.50" y="445.68" width="121.35" height="2.60" fill="#ff987d"/>
<rect x="818.50" y="447.69" width="121.35" height="2.60" fill="#ff7f5f"/>
<rect x="818.50" y="449.69" width="121.35" height="2.60" fill="#ff7858"/>
<rect x="818.50" y="451.70" width="121.35" height="2.60" fill="#ff7d5e"/>
<rect x="818.50" y="453.70" width="121.35" height="2.60" fill="#ff7453"/>
<rect x="818.50" y="455.70" width="121.35" height="2.60" fill="#ff6f4f"/>
<rect x="818.50" y="457.71" width="121.35" height="2.60" fill="#ffab94"/>
<rect x="818.50" y="459.71" width="121.35" height="2.60" fill="#ffa28a"/>
<rect x="818.50" y="461.72" width="121.35" height="2.60" fill="#ff8f72"/>
<rect x="818.50" y="463.72" width="121.35" height="2.60" fill="#ff9275"/>
<rect x="818.50" y="465.72" width="121.35" height="2.60" fill="#ffa188"/>
<rect x="818.50" y="467.73" width="121.35" height="2.60" fill="#ffbaa8"/>
<rect x="818.50" y="469.73" width="121.35" height="2.60" fill="#ffb39f"/>
<rect x="818.50" y="471.73" width="121.35" height="2.60" fill="#febdac"/>
<rect x="818.50" y="473.74" width="121.35" height="2.60" fill="#ffb29e"/>
<rect x="818.50" y="475.74" width="121.35" height="2.60" fill="#ff6e4d"/>
<rect x="818.50" y="477.75" width="121.35" height="2.00" fill="#ceb9f0"/>
<rect x="939.25" y="143.10" width="120.75" height="2.60" fill="#bfa2f3"/>
<rect x="939.25" y="145.10" width="120.75" height="2.60" fill="#4f2afe"/>
<rect x="939.25" y="147.11" width="120.75" height="2.60" fill="#4120fe"/>
<rect x="939.25" y="149.11" width="120.75" height="2.60" fill="#7b4ffb"/>
<rect x="939.25" y="151.12" width="120.75" height="2.60" fill="#522dfe"/>
<rect x="939.25" y="153.12" width="120.75" height="2.60" fill="#5932fd"/>
<rect x="939.25" y="155.12" width="120.75" height="2.60" fill="#986df9"/>
<rect x="939.25" y="157.13" width="120.75" height="2.60" fill="#794efc"/>
<rect x="939.25" y="159.13" width="120.75" height="2.60" fill="#a27af8"/>
<rect x="939.25" y="161.13" width="120.75" height="2.60" fill="#a37bf8"/>
<rect x="939.25" y="163.14" width="120.75" height="2.60" fill="#865bfb"/>
<rect x="939.25" y="165.14" width="120.75" height="2.60" fill="#966cf9"/>
<rect x="939.25" y="167.15" width="120.75" height="2.60" fill="#d9caee"/>
<rect x="939.25" y="169.15" width="120.75" height="2.60" fill="#c7aef2"/>
<rect x="939.25" y="171.15" width="120.75" height="2.60" fill="#9a70f9"/>
<rect x="939.25" y="173.16" width="120.75" height="2.60" fill="#a37bf8"/>
<rect x="939.25" y="175.16" width="120.75" height="2.60" fill="#693ffd"/>
<rect x="939.25" y="177.17" width="120.75" height="2.60" fill="#9d74f8"/>
<rect x="939.25" y="179.17" width="120.75" height="2.60" fill="#a47cf8"/>
<rect x="939.25" y="181.17" width="120.75" height="2.60" fill="#9f76f8"/>
<rect x="939.25" y="183.18" width="120.75" height="2.60" fill="#b18df6"/>
<rect x="939.25" y="185.18" width="120.75" height="2.60" fill="#371afe"/>
<rect x="939.25" y="187.19" width="120.75" height="2.60" fill="#a47cf8"/>
<rect x="939.25" y="189.19" width="120.75" height="2.60" fill="#b491f5"/>
<rect x="939.25" y="191.19" width="120.75" height="2.60" fill="#9b71f9"/>
<rect x="939.25" y="193.20" width="120.75" height="2.60" fill="#6239fd"/>
<rect x="939.25" y="195.20" width="120.75" height="2.60" fill="#a982f7"/>
<rect x="939.25" y="197.20" width="120.75" height="2.60" fill="#ae89f6"/>
<rect x="939.25" y="199.21" width="120.75" height="2.60" fill="#5a32fd"/>
<rect x="939.25" y="201.21" width="120.75" height="2.60" fill="#a179f8"/>
<rect x="939.25" y="203.22" width="120.75" height="2.60" fill="#976cf9"/>
<rect x="939.25" y="205.22" width="120.75" height="2.60" fill="#653cfd"/>
<rect x="939.25" y="207.22" width="120.75" height="2.60" fill="#7c50fb"/>
<rect x="939.25" y="209.23" width="120.75" height="2.60" fill="#5c34fd"/>
<rect x="939.25" y="211.23" width="120.75" height="2.60" fill="#9f76f8"/>
<rect x="939.25" y="213.24" width="120.75" height="2.60" fill="#b390f6"/>
<rect x="939.25" y="215.24" width="120.75" height="2.60" fill="#a179f8"/>
<rect x="939.25" y="217.24" width="120.75" height="2.60" fill="#976df9"/>
<rect x="939.25" y="219.25" width="120.75" height="2.60" fill="#ab85f7"/>
<rect x="939.25" y="221.25" width="120.75" height="2.60" fill="#ab85f7"/>
<rect x="939.25" y="223.25" width="120.75" height="2.60" fill="#9166fa"/>
<rect x="939.25" y="225.26" width="120.75" height="2.60" fill="#6f44fc"/>
<rect x="939.25" y="227.26" width="120.75" height="2.60" fill="#8054fb"/>
<rect x="939.25" y="229.27" width="120.75" height="2.60" fill="#8559fb"/>
<rect x="939.25" y="231.27" width="120.75" height="2.60" fill="#8c61fa"/>
<rect x="939.25" y="233.27" width="120.75" height="2.60" fill="#2e14ff"/>
<rect x="939.25" y="235.28" width="120.75" height="2.60" fill="#8a5efa"/>
<rect x="939.25" y="237.28" width="120.75" height="2.60" fill="#3a1cfe"/>
<rect x="939.25" y="239.29" width="120.75" height="2.60" fill="#0000ff"/>
<rect x="939.25" y="241.29" width="120.75" height="2.60" fill="#0000ff"/>
<rect x="939.25" y="243.29" width="120.75" height="2.60" fill="#cab3f1"/>
<rect x="939.25" y="245.30" width="120.75" height="2.60" fill="#7a4ffb"/>
<rect x="939.25" y="247.30" width="120.75" height="2.60" fill="#9c72f9"/>
<rect x="939.25" y="249.31" width="120.75" height="2.60" fill="#bc9cf4"/>
<rect x="939.25" y="251.31" width="120.75" height="2.60" fill="#8357fb"/>
<rect x="939.25" y="253.31" width="120.75" height="2.60" fill="#7f54fb"/>
<rect x="939.25" y="255.32" width="120.75" height="2.60" fill="#a078f8"/>
<rect x="939.25" y="257.32" width="120.75" height="2.60" fill="#9f76f8"/>
<rect x="939.25" y="259.32" width="120.75" height="2.60" fill="#956bf9"/>
<rect x="939.25" y="261.33" width="120.75" height="2.60" fill="#9b72f9"/>
<rect x="939.25" y="263.33" width="120.75" height="2.60" fill="#9166fa"/>
<rect x="939.25" y="265.34" width="120.75" height="2.60" fill="#653bfd"/>
<rect x="939.25" y="267.34" width="120.75" height="2.60" fill="#aa83f7"/>
<rect x="939.25" y="269.34" width="120.75" height="2.60" fill="#956bf9"/>
<rect x="939.25" y="271.35" width="120.75" height="2.60" fill="#966bf9"/>
<rect x="939.25" y="273.35" width="120.75" height="2.60" fill="#9469f9"/>
<rect x="939.25" y="275.36" width="120.75" height="2.60" fill="#986ef9"/>
<rect x="939.25" y="277.36" width="120.75" height="2.60" fill="#b694f5"/>
<rect x="939.25" y="279.36" width="120.75" height="2.60" fill="#bc9df4"/>
<rect x="939.25" y="281.37" width="120.75" height="2.60" fill="#bfa1f4"/>
<rect x="939.25" y="283.37" width="120.75" height="2.60" fill="#b694f5"/>
<rect x="939.25" y="285.37" width="120.75" height="2.60" fill="#9368f9"/>
<rect x="939.25" y="287.38" width="120.75" height="2.60" fill="#6a40fc"/>
<rect x="939.25" y="289.38" width="120.75" height="2.60" fill="#5a33fd"/>
<rect x="939.25" y="291.39" width="120.75" height="2.60" fill="#200cff"/>
<rect x="939.25" y="293.39" width="120.75" height="2.60" fill="#2911ff"/>
<rect x="939.25" y="295.39" width="120.75" height="2.60" fill="#5730fd"/>
<rect x="939.25" y="297.40" width="120.75" height="2.60" fill="#c0a3f3"/>
<rect x="939.25" y="299.40" width="120.75" height="2.60" fill="#c6acf2"/>
<rect x="939.25" y="301.41" width="120.75" height="2.60" fill="#a57df8"/>
<rect x="939.25" y="303.41" width="120.75" height="2.60" fill="#b28ef6"/>
<rect x="939.25" y="305.41" width="120.75" height="2.60" fill="#bfa1f4"/>
<rect x="939.25" y="307.42" width="120.75" height="2.60" fill="#c5aaf2"/>
<rect x="939.25" y="309.42" width="120.75" height="2.60" fill="#b998f5"/>
<rect x="939.25" y="311.42" width="120.75" height="2.60" fill="#a179f8"/>
<rect x="939.25" y="313.43" width="120.75" height="2.60" fill="#6a40fc"/>
<rect x="939.25" y="315.43" width="120.75" height="2.60" fill="#966cf9"/>
<rect x="939.25" y="317.44" width="120.75" height="2.60" fill="#7549fc"/>
<rect x="939.25" y="319.44" width="120.75" height="2.60" fill="#774cfc"/>
<rect x="939.25" y="321.44" width="120.75" height="2.60" fill="#633afd"/>
<rect x="939.25" y="323.45" width="120.75" height="2.60" fill="#6b41fc"/>
<rect x="939.25" y="325.45" width="120.75" height="2.60" fill="#4221fe"/>
<rect x="939.25" y="327.46" width="120.75" height="2.60" fill="#6a40fc"/>
<rect x="939.25" y="329.46" width="120.75" height="2.60" fill="#693ffd"/>
<rect x="939.25" y="331.46" width="120.75" height="2.60" fill="#693ffd"/>
<rect x="939.25" y="333.47" width="120.75" height="2.60" fill="#6d43fc"/>
<rect x="939.25" y="335.47" width="120.75" height="2.60" fill="#5f36fd"/>
<rect x="939.25" y="337.48" width="120.75" height="2.60" fill="#754afc"/>
<rect x="939.25" y="339.48" width="120.75" height="2.60" fill="#885cfa"/>
<rect x="939.25" y="341.48" width="120.75" height="2.60" fill="#2e14ff"/>
<rect x="939.25" y="343.49" width="120.75" height="2.60" fill="#7348fc"/>
<rect x="939.25" y="345.49" width="120.75" height="2.60" fill="#e2dbeb"/>
<rect x="939.25" y="347.49" width="120.75" height="2.60" fill="#ccb5f1"/>
<rect x="939.25" y="349.50" width="120.75" height="2.60" fill="#cab2f1"/>
<rect x="939.25" y="351.50" width="120.75" height="2.60" fill="#bc9df4"/>
<rect x="939.25" y="353.51" width="120.75" height="2.60" fill="#d8c9ee"/>
<rect x="939.25" y="355.51" width="120.75" height="2.60" fill="#4b27fe"/>
<rect x="939.25" y="357.51" width="120.75" height="2.60" fill="#2e14ff"/>
<rect x="939.25" y="359.52" width="120.75" height="2.60" fill="#4725fe"/>
<rect x="939.25" y="361.52" width="120.75" height="2.60" fill="#4c28fe"/>
<rect x="939.25" y="363.53" width="120.75" height="2.60" fill="#7c50fb"/>
<rect x="939.25" y="365.53" width="120.75" height="2.60" fill="#7146fc"/>
<rect x="939.25" y="367.53" width="120.75" height="2.60" fill="#7247fc"/>
<rect x="939.25" y="369.54" width="120.75" height="2.60" fill="#8e63fa"/>
<rect x="939.25" y="371.54" width="120.75" height="2.60" fill="#0000ff"/>
<rect x="939.25" y="373.54" width="120.75" height="2.60" fill="#0000ff"/>
<rect x="939.25" y="375.55" width="120.75" height="2.60" fill="#0000ff"/>
<rect x="939.25" y="377.55" width="120.75" height="2.60" fill="#0000ff"/>
<rect x="939.25" y="379.56" width="120.75" height="2.60" fill="#0000ff"/>
<rect x="939.25" y="381.56" width="120.75" height="2.60" fill="#8559fb"/>
<rect x="939.25" y="383.56" width="120.75" height="2.60" fill="#895dfa"/>
<rect x="939.25" y="385.57" width="120.75" height="2.60" fill="#986ef9"/>
<rect x="939.25" y="387.57" width="120.75" height="2.60" fill="#9267fa"/>
<rect x="939.25" y="389.58" width="120.75" height="2.60" fill="#ffb19d"/>
<rect x="939.25" y="391.58" width="120.75" height="2.60" fill="#ffb8a5"/>
<rect x="939.25" y="393.58" width="120.75" height="2.60" fill="#cfbbf0"/>
<rect x="939.25" y="395.59" width="120.75" height="2.60" fill="#bfa1f4"/>
<rect x="939.25" y="397.59" width="120.75" height="2.60" fill="#ff9276"/>
<rect x="939.25" y="399.60" width="120.75" height="2.60" fill="#ff8769"/>
<rect x="939.25" y="401.60" width="120.75" height="2.60" fill="#ff8668"/>
<rect x="939.25" y="403.60" width="120.75" height="2.60" fill="#ff8e71"/>
<rect x="939.25" y="405.61" width="120.75" height="2.60" fill="#e2dceb"/>
<rect x="939.25" y="407.61" width="120.75" height="2.60" fill="#d8c9ee"/>
<rect x="939.25" y="409.61" width="120.75" height="2.60" fill="#ff9c81"/>
<rect x="939.25" y="411.62" width="120.75" height="2.60" fill="#ffad97"/>
<rect x="939.25" y="413.62" width="120.75" height="2.60" fill="#ffa993"/>
<rect x="939.25" y="415.63" width="120.75" height="2.60" fill="#ff8667"/>
<rect x="939.25" y="417.63" width="120.75" height="2.60" fill="#ff8769"/>
<rect x="939.25" y="419.63" width="120.75" height="2.60" fill="#ff7151"/>
<rect x="939.25" y="421.64" width="120.75" height="2.60" fill="#ff5b3b"/>
<rect x="939.25" y="423.64" width="120.75" height="2.60" fill="#ffb39f"/>
<rect x="939.25" y="425.65" width="120.75" height="2.60" fill="#fac8bb"/>
<rect x="939.25" y="427.65" width="120.75" height="2.60" fill="#ffad97"/>
<rect x="939.25" y="429.65" width="120.75" height="2.60" fill="#febbaa"/>
<rect x="939.25" y="431.66" width="120.75" height="2.60" fill="#ffaf9a"/>
<rect x="939.25" y="433.66" width="120.75" height="2.60" fill="#ff5c3b"/>
<rect x="939.25" y="435.66" width="120.75" height="2.60" fill="#ff7050"/>
<rect x="939.25" y="437.67" width="120.75" height="2.60" fill="#ff5d3c"/>
<rect x="939.25" y="439.67" width="120.75" height="2.60" fill="#ff0401"/>
<rect x="939.25" y="441.68" width="120.75" height="2.60" fill="#ff0c03"/>
<rect x="939.25" y="443.68" width="120.75" height="2.60" fill="#ff6140"/>
<rect x="939.25" y="445.68" width="120.75" height="2.60" fill="#ff5131"/>
<rect x="939.25" y="447.69" width="120.75" height="2.60" fill="#ff886a"/>
<rect x="939.25" y="449.69" width="120.75" height="2.60" fill="#ff5c3b"/>
<rect x="939.25" y="451.70" width="120.75" height="2.60" fill="#ff7656"/>
<rect x="939.25" y="453.70" width="120.75" height="2.60" fill="#ff5e3d"/>
<rect x="939.25" y="455.70" width="120.75" height="2.60" fill="#ff7858"/>
<rect x="939.25" y="457.71" width="120.75" height="2.60" fill="#ff0000"/>
<rect x="939.25" y="459.71" width="120.75" height="2.60" fill="#ff0000"/>
<rect x="939.25" y="461.72" width="120.75" height="2.60" fill="#ff0000"/>
<rect x="939.25" y="463.72" width="120.75" height="2.60" fill="#ff0000"/>
<rect x="939.25" y="465.72" width="120.75" height="2.60" fill="#ff0000"/>
<rect x="939.25" y="467.73" width="120.75" height="2.60" fill="#ff5737"/>
<rect x="939.25" y="469.73" width="120.75" height="2.60" fill="#ff4629"/>
<rect x="939.25" y="471.73" width="120.75" height="2.60" fill="#ff5233"/>
<rect x="939.25" y="473.74" width="120.75" height="2.60" fill="#ff5b3a"/>
<rect x="939.25" y="475.74" width="120.75" height="2.60" fill="#ff391e"/>
<rect x="939.25" y="477.75" width="120.75" height="2.00" fill="#ff6e4d"/>
</g>
<path d="M30.60 215.06H14.75V449.28H38.75M53.75 160.67H30.60V269.45H40.00M59.97 152.18H53.75V169.15H75.92M65.35 146.36H59.97V158.00H60.01M91.00 144.10H65.35V148.61H71.57M75.56 147.11H71.57V150.11H91.00M91.00 146.11H75.56V148.11H91.00M62.49 153.62H60.01V162.39H68.46M91.00 152.12H62.49V155.12H70.07M91.00 154.12H70.07V156.13H91.00M72.84 159.63H68.46V165.14H77.36M91.00 158.13H72.84V161.13H72.90M91.00 160.13H72.90V162.14H91.00M91.00 164.14H77.36V166.14H91.00M91.00 168.15H75.92V170.15H91.00M41.90 217.71H40.00V321.19H45.60M55.00 189.49H41.90V245.92H53.75M66.77 177.92H55.00V201.07H55.00M72.36 174.66H66.77V181.17H68.06M79.74 173.16H72.36V176.16H91.00M91.00 172.16H79.74V174.16H91.00M79.40 179.17H68.06V183.18H72.13M91.00 178.17H79.40V180.17H91.00M91.00 182.18H72.13V184.18H91.00M64.74 192.04H55.00V210.10H68.02M91.00 186.18H64.74V197.89H65.41M71.48 194.57H65.41V201.21H71.28M74.31 191.94H71.48V197.20H75.41M79.25 189.69H74.31V194.20H91.00M91.00 188.19H79.25V191.19H79.25M91.00 190.19H79.25V192.19H91.00M91.00 196.20H75.41V198.21H91.00M91.00 200.21H71.28V202.21H91.00M71.36 207.98H68.02V212.23H91.00M74.99 205.72H71.36V210.23H91.00M91.00 204.22H74.99V207.22H76.08M91.00 206.22H76.08V208.23H91.00M58.93 234.46H53.75V257.38H66.33M64.79 221.49H58.93V247.43H68.53M91.00 214.24H64.79V228.73H66.22M68.24 220.94H66.22V236.53H74.90M80.70 217.24H68.24V224.63H72.12M91.00 216.24H80.70V218.25H91.00M75.82 221.25H72.12V228.01H74.60M91.00 220.25H75.82V222.25H91.00M77.95 225.26H74.60V230.77H77.47M91.00 224.26H77.95V226.26H91.00M78.41 229.27H77.47V232.27H91.00M91.00 228.26H78.41V230.27H91.00M91.00 234.28H74.90V238.78H76.02M77.69 237.28H76.02V240.29H91.00M91.00 236.28H77.69V238.28H91.00M69.45 244.55H68.53V250.31H91.00M91.00 242.29H69.45V246.80H74.40M74.40 245.30H74.40V248.30H91.00M91.00 244.30H74.40V246.30H91.00M91.00 252.31H66.33V262.46H68.77M70.51 258.07H68.77V266.84H76.09M73.74 255.32H70.51V260.83H76.84M91.00 254.31H73.74V256.32H91.00M79.95 259.32H76.84V262.33H91.00M91.00 258.32H79.95V260.33H91.00M76.09 265.34H76.09V268.34H91.00M91.00 264.33H76.09V266.34H91.00M52.50 295.77H45.60V346.62H51.25M54.95 281.30H52.50V310.24H66.25M61.52 273.98H54.95V288.63H64.16M76.07 271.35H61.52V276.61H69.73M91.00 270.35H76.07V272.35H91.00M91.00 274.35H69.73V278.86H72.49M76.99 277.36H72.49V280.37H91.00M91.00 276.36H76.99V278.36H91.00M74.11 283.87H64.16V293.39H65.45M91.00 282.37H74.11V285.37H76.85M91.00 284.37H76.85V286.38H91.00M77.32 289.88H65.45V296.90H69.59M91.00 288.38H77.32V291.39H78.88M91.00 290.38H78.88V292.39H91.00M73.44 295.39H69.59V298.40H91.00M91.00 294.39H73.44V296.40H91.00M68.27 305.04H66.25V315.43H73.96M73.71 301.41H68.27V308.67H75.01M91.00 300.40H73.71V302.41H91.00M77.48 305.91H75.01V311.42H75.01M91.00 304.41H77.48V307.42H79.72M91.00 306.42H79.72V308.42H91.00M91.00 310.42H75.01V312.43H91.00M91.00 314.43H73.96V316.43H91.00M65.44 330.65H51.25V362.59H53.13M69.99 321.82H65.44V339.48H70.51M79.08 319.44H69.99V324.20H74.13M91.00 318.44H79.08V320.44H91.00M91.00 322.45H74.13V325.95H74.78M91.00 324.45H74.78V327.46H78.76M91.00 326.45H78.76V328.46H91.00M73.20 334.47H70.51V344.49H91.00M91.00 330.46H73.20V338.48H74.00M74.00 335.47H74.00V341.48H75.90M78.53 333.47H74.00V337.48H77.83M91.00 332.47H78.53V334.47H91.00M91.00 336.47H77.83V338.48H91.00M91.00 340.48H75.90V342.48H91.00M72.14 349.75H53.13V375.42H55.80M78.94 347.49H72.14V352.00H72.91M91.00 346.49H78.94V348.50H91.00M91.00 350.50H72.91V353.51H76.41M91.00 352.50H76.41V354.51H91.00M64.24 365.28H55.80V385.57H68.65M70.41 359.02H64.24V371.54H65.16M81.32 357.51H70.41V360.52H91.00M91.00 356.51H81.32V358.52H91.00M72.35 365.40H65.16V377.68H73.44M91.00 362.52H72.35V368.28H74.68M76.50 366.03H74.68V370.54H91.00M91.00 364.53H76.50V367.53H77.71M91.00 366.53H77.71V368.54H91.00M76.38 374.80H73.44V380.56H91.00M91.00 372.54H76.38V377.05H78.89M78.89 375.55H78.89V378.55H91.00M91.00 374.55H78.89V376.55H91.00M77.50 383.56H68.65V387.57H74.38M91.00 382.56H77.50V384.57H91.00M91.00 386.57H74.38V388.57H91.00M45.60 420.82H38.75V477.75H58.00M55.60 399.60H45.60V442.04H48.10M66.78 393.58H55.60V405.61H55.60M79.78 391.58H66.78V395.59H74.24M91.00 390.58H79.78V392.58H91.00M91.00 394.59H74.24V396.59H91.00M62.70 401.60H55.60V409.61H66.18M66.39 399.60H62.70V403.60H78.13M91.00 398.59H66.39V400.60H91.00M91.00 402.60H78.13V404.60H91.00M70.27 407.61H66.18V411.62H74.30M91.00 406.61H70.27V408.61H91.00M91.00 410.62H74.30V412.62H91.00M57.85 425.96H48.10V458.11H54.28M64.29 422.26H57.85V429.65H69.26M65.91 418.88H64.29V425.65H74.30M72.09 416.13H65.91V421.64H74.85M91.00 414.62H72.09V417.63H73.61M91.00 416.63H73.61V418.63H91.00M91.00 420.64H74.85V422.64H91.00M91.00 424.64H74.30V426.65H91.00M91.00 428.65H69.26V430.66H91.00M54.28 445.75H54.28V470.48H65.84M68.90 435.66H54.28V455.83H60.02M72.26 433.66H68.90V437.67H73.46M91.00 432.66H72.26V434.66H91.00M91.00 436.67H73.46V438.67H91.00M63.49 448.69H60.02V462.97H73.91M71.95 444.43H63.49V452.95H71.15M76.81 441.68H71.95V447.19H74.85M91.00 440.67H76.81V442.68H91.00M78.20 445.68H74.85V448.69H91.00M91.00 444.68H78.20V446.69H91.00M91.00 450.69H71.15V455.20H74.31M77.33 453.70H74.31V456.71H91.00M91.00 452.70H77.33V454.70H91.00M76.46 460.21H73.91V465.72H78.21M91.00 458.71H76.46V461.72H77.18M91.00 460.71H77.18V462.72H91.00M91.00 464.72H78.21V466.72H91.00M91.00 468.73H65.84V472.24H68.58M91.00 470.73H68.58V473.74H74.07M91.00 472.74H74.07V474.74H91.00M91.00 476.74H58.00V478.75H91.00" fill="none" stroke="#000" stroke-width="1.9"/>
<g font-family="Liberation Sans, Arial, sans-serif" font-size="32.2" fill="#000" stroke="#000" stroke-width="0.4">
<text transform="translate(165.68,489.3) rotate(-90) scale(1,1.045)" text-anchor="end">SSCUB_S_Iso_SRR11815234</text>
<text transform="translate(286.43,489.3) rotate(-90) scale(1,1.045)" text-anchor="end">SSCUB_S_Iso_SRR11815233</text>
<text transform="translate(407.18,489.3) rotate(-90) scale(1,1.045)" text-anchor="end">SSCUB_S_Iso_SRR11815232</text>
<text transform="translate(527.92,489.3) rotate(-90) scale(1,1.045)" text-anchor="end">SSCUB_S_Iso_SRR11815230</text>
<text transform="translate(648.67,489.3) rotate(-90) scale(1,1.045)" text-anchor="end">SSCUB_G_Crd_SRR11815222</text>
<text transform="translate(769.42,489.3) rotate(-90) scale(1,1.045)" text-anchor="end">SSCUB_G_Crd_SRR11815221</text>
<text transform="translate(890.17,489.3) rotate(-90) scale(1,1.045)" text-anchor="end">SSCUB_G_Crd_SRR11815223</text>
<text transform="translate(1010.92,489.3) rotate(-90) scale(1,1.045)" text-anchor="end">SSCUB_G_Crd_SRR11815220</text>
</g>
<text transform="translate(1074.2,234) scale(1,1.05)" font-family="Liberation Sans, Arial, sans-serif" font-weight="bold" font-size="26.7">Z-score Expression</text>
<defs><linearGradient id="lg" x1="0" y1="0" x2="0" y2="1"><stop offset="0.0000" stop-color="#ff0000"/><stop offset="0.0125" stop-color="#ff0000"/><stop offset="0.0250" stop-color="#ff0000"/><stop offset="0.0375" stop-color="#ff0000"/><stop offset="0.0500" stop-color="#ff0000"/><stop offset="0.0625" stop-color="#ff0000"/><stop offset="0.0750" stop-color="#ff0200"/><stop offset="0.0875" stop-color="#ff1808"/><stop offset="0.1000" stop-color="#ff2410"/><stop offset="0.1125" stop-color="#ff2e16"/><stop offset="0.1250" stop-color="#ff351c"/><stop offset="0.1375" stop-color="#ff3c21"/><stop offset="0.1500" stop-color="#ff4326"/><stop offset="0.1625" stop-color="#ff492b"/><stop offset="0.1750" stop-color="#ff4e2f"/><stop offset="0.1875" stop-color="#ff5434"/><stop offset="0.2000" stop-color="#ff5938"/><stop offset="0.2125" stop-color="#ff603f"/><stop offset="0.2250" stop-color="#ff6747"/><stop offset="0.2375" stop-color="#ff6e4e"/><stop offset="0.2500" stop-color="#ff7555"/><stop offset="0.2625" stop-color="#ff7b5c"/><stop offset="0.2750" stop-color="#ff8263"/><stop offset="0.2875" stop-color="#ff886a"/><stop offset="0.3000" stop-color="#ff8e71"/><stop offset="0.3125" stop-color="#ff9478"/><stop offset="0.3250" stop-color="#ff9a80"/><stop offset="0.3375" stop-color="#ffa087"/><stop offset="0.3500" stop-color="#ffa68e"/><stop offset="0.3625" stop-color="#ffac95"/><stop offset="0.3750" stop-color="#ffb19d"/><stop offset="0.3875" stop-color="#ffb7a4"/><stop offset="0.4000" stop-color="#febdac"/><stop offset="0.4125" stop-color="#fcc2b3"/><stop offset="0.4250" stop-color="#fac8bb"/><stop offset="0.4375" stop-color="#f8cdc2"/><stop offset="0.4500" stop-color="#f6d3ca"/><stop offset="0.4625" stop-color="#f3d8d1"/><stop offset="0.4750" stop-color="#f0ded9"/><stop offset="0.4875" stop-color="#ede3e1"/><stop offset="0.5000" stop-color="#e9e9e9"/><stop offset="0.5125" stop-color="#e6e2ea"/><stop offset="0.5250" stop-color="#e2dbeb"/><stop offset="0.5375" stop-color="#ded5ec"/><stop offset="0.5500" stop-color="#daceed"/><stop offset="0.5625" stop-color="#d7c7ee"/><stop offset="0.5750" stop-color="#d3c0ef"/><stop offset="0.5875" stop-color="#ceb9f0"/><stop offset="0.6000" stop-color="#cab2f1"/><stop offset="0.6125" stop-color="#c6abf2"/><stop offset="0.6250" stop-color="#c1a5f3"/><stop offset="0.6375" stop-color="#bd9ef4"/><stop offset="0.6500" stop-color="#b897f5"/><stop offset="0.6625" stop-color="#b390f5"/><stop offset="0.6750" stop-color="#ae89f6"/><stop offset="0.6875" stop-color="#a983f7"/><stop offset="0.7000" stop-color="#a47cf8"/><stop offset="0.7125" stop-color="#9e75f8"/><stop offset="0.7250" stop-color="#986ef9"/><stop offset="0.7375" stop-color="#9267fa"/><stop offset="0.7500" stop-color="#8c60fa"/><stop offset="0.7625" stop-color="#8559fb"/><stop offset="0.7750" stop-color="#7e52fb"/><stop offset="0.7875" stop-color="#774bfc"/><stop offset="0.8000" stop-color="#6f44fc"/><stop offset="0.8125" stop-color="#693ffd"/><stop offset="0.8250" stop-color="#633afd"/><stop offset="0.8375" stop-color="#5d35fd"/><stop offset="0.8500" stop-color="#5630fd"/><stop offset="0.8625" stop-color="#4f2bfe"/><stop offset="0.8750" stop-color="#4725fe"/><stop offset="0.8875" stop-color="#3e1efe"/><stop offset="0.9000" stop-color="#3217fe"/><stop offset="0.9125" stop-color="#240eff"/><stop offset="0.9250" stop-color="#0802ff"/><stop offset="0.9375" stop-color="#0000ff"/><stop offset="0.9500" stop-color="#0000ff"/><stop offset="0.9625" stop-color="#0000ff"/><stop offset="0.9750" stop-color="#0000ff"/><stop offset="0.9875" stop-color="#0000ff"/><stop offset="1.0000" stop-color="#0000ff"/></linearGradient></defs>
<rect x="1074.3" y="248.0" width="32.10" height="161.40" fill="url(#lg)"/>
<g stroke="#fff" stroke-width="1.9"><line x1="1074.3" x2="1082.1" y1="254.4" y2="254.4"/><line x1="1098.6000000000001" x2="1106.4" y1="254.4" y2="254.4"/><line x1="1074.3" x2="1082.1" y1="291.6" y2="291.6"/><line x1="1098.6000000000001" x2="1106.4" y1="291.6" y2="291.6"/><line x1="1074.3" x2="1082.1" y1="328.8" y2="328.8"/><line x1="1098.6000000000001" x2="1106.4" y1="328.8" y2="328.8"/><line x1="1074.3" x2="1082.1" y1="366.0" y2="366.0"/><line x1="1098.6000000000001" x2="1106.4" y1="366.0" y2="366.0"/><line x1="1074.3" x2="1082.1" y1="403.2" y2="403.2"/><line x1="1098.6000000000001" x2="1106.4" y1="403.2" y2="403.2"/></g>
<g font-family="Liberation Sans, Arial, sans-serif" font-size="26.7" fill="#000" stroke="#000" stroke-width="0.3"><text transform="translate(1112.6,263.90) scale(1,1.05)">2</text><text transform="translate(1112.6,301.10) scale(1,1.05)">1</text><text transform="translate(1112.6,338.30) scale(1,1.05)">0</text><text transform="translate(1112.6,375.50) scale(1,1.05)">-1</text><text transform="translate(1112.6,412.70) scale(1,1.05)">-2</text></g>
</svg>
</body></html>
